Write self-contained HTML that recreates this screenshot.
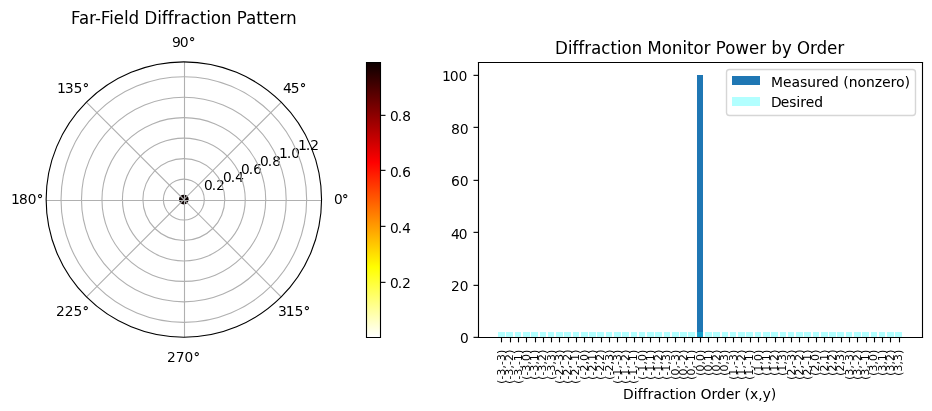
<!DOCTYPE html>
<html><head><meta charset="utf-8"><style>
html,body{margin:0;padding:0;background:#fff;width:932px;height:411px;overflow:hidden;font-family:"Liberation Sans",sans-serif;}
svg{display:block;}
</style></head><body>
<svg width="932" height="411" viewBox="0 0 671.04 295.92" version="1.1">
 
 <defs>
  <style type="text/css">*{stroke-linejoin: round; stroke-linecap: butt}</style>
 </defs>
 <defs><path id="g100_30" d="M4.344 8.906Q3.266 8.906 2.719 7.922Q2.188 6.953 2.188 5.000Q2.188 3.047 2.719 2.062Q3.266 1.094 4.344 1.094Q5.422 1.094 5.953 2.062Q6.500 3.047 6.500 5.000Q6.500 6.953 5.953 7.922Q5.422 8.906 4.344 8.906ZM4.344 10.000Q6.031 10.000 6.922 8.719Q7.812 7.438 7.812 5.000Q7.812 2.562 6.922 1.281Q6.031 0.000 4.344 0.000Q2.656 0.000 1.766 1.281Q0.875 2.562 0.875 5.000Q0.875 7.438 1.766 8.719Q2.656 10.000 4.344 10.000Z"/><path id="g100_b0" d="M3.500 8.859Q2.969 8.859 2.609 8.578Q2.250 8.297 2.250 7.891Q2.250 7.500 2.609 7.219Q2.969 6.953 3.500 6.953Q4.031 6.953 4.391 7.219Q4.750 7.500 4.750 7.891Q4.750 8.297 4.375 8.578Q4.016 8.859 3.500 8.859ZM3.500 9.953Q3.938 9.953 4.328 9.797Q4.719 9.641 5.000 9.344Q5.312 9.062 5.469 8.688Q5.625 8.312 5.625 7.891Q5.625 7.047 5.000 6.453Q4.391 5.859 3.484 5.859Q2.578 5.859 1.969 6.438Q1.375 7.016 1.375 7.891Q1.375 8.750 1.984 9.344Q2.609 9.953 3.500 9.953Z"/><path id="g100_34" d="M5.250 8.906L1.797 3.984L5.250 3.984L5.250 8.906ZM4.891 10.000L6.562 10.000L6.562 3.984L8.016 3.984L8.016 2.828L6.562 2.828L6.562 0.000L5.250 0.000L5.250 2.828L0.688 2.828L0.688 4.156L4.891 10.000Z"/><path id="g100_35" d="M1.500 10.000L6.844 10.000L6.844 8.906L2.812 8.906L2.812 6.766Q3.109 6.859 3.391 6.906Q3.688 6.953 3.984 6.953Q5.641 6.953 6.594 6.016Q7.562 5.078 7.562 3.484Q7.562 1.828 6.547 0.906Q5.547 0.000 3.703 0.000Q3.078 0.000 2.422 0.094Q1.766 0.203 1.062 0.406L1.062 1.781Q1.672 1.422 2.328 1.250Q2.984 1.094 3.703 1.094Q4.875 1.094 5.562 1.734Q6.250 2.375 6.250 3.469Q6.250 4.562 5.562 5.203Q4.891 5.859 3.703 5.859Q3.156 5.859 2.609 5.719Q2.062 5.594 1.500 5.344L1.500 10.000Z"/><path id="g100_39" d="M1.500 0.391L1.500 1.656Q2.031 1.391 2.562 1.234Q3.109 1.094 3.641 1.094Q5.031 1.094 5.766 2.078Q6.500 3.062 6.500 5.062Q6.109 4.484 5.500 4.172Q4.906 3.859 4.172 3.859Q2.641 3.859 1.750 4.672Q0.875 5.500 0.875 6.938Q0.875 8.312 1.797 9.156Q2.719 10.000 4.266 10.000Q6.016 10.000 6.938 8.719Q7.875 7.438 7.875 5.000Q7.875 2.719 6.734 1.359Q5.594 0.000 3.656 0.000Q3.141 0.000 2.609 0.094Q2.078 0.188 1.500 0.391ZM4.250 4.953Q5.203 4.953 5.750 5.484Q6.312 6.016 6.312 6.938Q6.312 7.844 5.750 8.375Q5.203 8.906 4.250 8.906Q3.297 8.906 2.734 8.375Q2.188 7.844 2.188 6.938Q2.188 6.016 2.734 5.484Q3.297 4.953 4.250 4.953Z"/><path id="g100_31" d="M1.750 1.188L4.000 1.188L4.000 8.781L1.562 8.297L1.562 9.516L3.984 10.000L5.312 10.000L5.312 1.188L7.625 1.188L7.625 0.000L1.750 0.000L1.750 1.188Z"/><path id="g100_33" d="M5.594 5.391Q6.578 5.188 7.125 4.547Q7.688 3.922 7.688 3.000Q7.688 1.562 6.656 0.781Q5.641 0.000 3.750 0.000Q3.125 0.000 2.453 0.109Q1.781 0.234 1.062 0.469L1.062 1.750Q1.641 1.422 2.312 1.250Q3.000 1.094 3.734 1.094Q5.016 1.094 5.688 1.578Q6.375 2.078 6.375 3.016Q6.375 3.891 5.750 4.375Q5.125 4.859 4.000 4.859L2.812 4.859L2.812 5.953L4.047 5.953Q5.062 5.953 5.594 6.328Q6.125 6.703 6.125 7.406Q6.125 8.141 5.562 8.516Q5.016 8.906 4.000 8.906Q3.438 8.906 2.781 8.781Q2.141 8.672 1.375 8.438L1.375 9.594Q2.141 9.797 2.812 9.891Q3.500 10.000 4.094 10.000Q5.641 10.000 6.531 9.328Q7.438 8.656 7.438 7.516Q7.438 6.703 6.953 6.141Q6.484 5.594 5.594 5.391Z"/><path id="g100_38" d="M4.469 4.859Q3.469 4.859 2.891 4.359Q2.312 3.859 2.312 2.984Q2.312 2.094 2.891 1.594Q3.469 1.094 4.469 1.094Q5.469 1.094 6.047 1.594Q6.625 2.109 6.625 2.984Q6.625 3.859 6.047 4.359Q5.484 4.859 4.469 4.859ZM3.109 5.328Q2.234 5.531 1.734 6.094Q1.250 6.672 1.250 7.516Q1.250 8.656 2.109 9.328Q2.969 10.000 4.469 10.000Q5.969 10.000 6.828 9.344Q7.688 8.688 7.688 7.578Q7.688 6.766 7.203 6.203Q6.719 5.656 5.859 5.453Q6.844 5.234 7.391 4.562Q7.938 3.906 7.938 2.969Q7.938 1.547 7.031 0.766Q6.141 0.000 4.469 0.000Q2.797 0.000 1.891 0.750Q1.000 1.500 1.000 2.891Q1.000 3.828 1.562 4.469Q2.125 5.109 3.109 5.328ZM2.562 7.422Q2.562 6.734 3.062 6.344Q3.562 5.953 4.469 5.953Q5.359 5.953 5.859 6.344Q6.375 6.734 6.375 7.422Q6.375 8.125 5.859 8.516Q5.359 8.906 4.469 8.906Q3.562 8.906 3.062 8.516Q2.562 8.125 2.562 7.422Z"/><path id="g100_32" d="M2.656 1.094L7.375 1.094L7.375 0.000L1.000 0.000L1.000 1.094Q1.781 1.875 3.125 3.203Q4.469 4.547 4.812 4.922Q5.484 5.641 5.734 6.141Q6.000 6.656 6.000 7.125Q6.000 7.906 5.438 8.406Q4.875 8.906 3.953 8.906Q3.312 8.906 2.594 8.688Q1.875 8.469 1.062 8.031L1.062 9.359Q1.891 9.688 2.594 9.844Q3.312 10.000 3.906 10.000Q5.469 10.000 6.391 9.234Q7.312 8.469 7.312 7.188Q7.312 6.578 7.078 6.031Q6.859 5.484 6.250 4.766Q6.078 4.578 5.172 3.656Q4.281 2.734 2.656 1.094Z"/><path id="g100_37" d="M1.125 10.000L7.625 10.000L7.625 9.453L3.953 0.000L2.531 0.000L5.984 8.906L1.125 8.906L1.125 10.000Z"/><path id="g100_2e" d="M1.500 1.844L2.875 1.844L2.875 0.000L1.500 0.000L1.500 1.844Z"/><path id="g100_36" d="M4.609 5.859Q3.672 5.859 3.125 5.219Q2.578 4.594 2.578 3.484Q2.578 2.375 3.125 1.734Q3.672 1.094 4.609 1.094Q5.531 1.094 6.078 1.734Q6.625 2.375 6.625 3.484Q6.625 4.594 6.078 5.219Q5.531 5.859 4.609 5.859ZM7.312 9.609L7.312 8.516Q6.797 8.703 6.250 8.797Q5.719 8.906 5.203 8.906Q3.828 8.906 3.094 8.109Q2.375 7.328 2.375 5.719Q2.766 6.328 3.359 6.641Q3.969 6.953 4.688 6.953Q6.188 6.953 7.062 6.016Q7.938 5.094 7.938 3.484Q7.938 1.906 7.016 0.953Q6.109 0.000 4.594 0.000Q2.844 0.000 1.922 1.281Q1.000 2.562 1.000 5.000Q1.000 7.281 2.125 8.641Q3.266 10.000 5.188 10.000Q5.703 10.000 6.219 9.906Q6.750 9.812 7.312 9.609Z"/><path id="g120_46" d="M1.625 13.000L8.531 13.000L8.531 11.641L3.203 11.641L3.203 8.078L8.000 8.078L8.000 6.734L3.203 6.734L3.203 0.000L1.625 0.000L1.625 13.000Z"/><path id="g120_61" d="M5.656 4.734Q3.875 4.734 3.188 4.344Q2.500 3.953 2.500 3.000Q2.500 2.250 3.016 1.797Q3.531 1.359 4.422 1.359Q5.641 1.359 6.375 2.188Q7.125 3.031 7.125 4.422L7.125 4.734L5.656 4.734ZM8.625 5.578L8.625 0.000L7.125 0.000L7.125 1.703Q6.625 0.828 5.859 0.406Q5.109 0.000 4.016 0.000Q2.641 0.000 1.812 0.797Q1.000 1.594 1.000 2.922Q1.000 4.500 2.016 5.281Q3.031 6.078 5.047 6.078L7.125 6.078L7.125 6.234Q7.125 7.391 6.453 8.016Q5.781 8.641 4.578 8.641Q3.797 8.641 3.062 8.438Q2.344 8.234 1.672 7.812L1.672 9.328Q2.484 9.672 3.250 9.828Q4.016 10.000 4.734 10.000Q6.688 10.000 7.656 8.906Q8.625 7.812 8.625 5.578Z"/><path id="g120_72" d="M6.812 8.328Q6.562 8.484 6.266 8.562Q5.984 8.641 5.641 8.641Q4.406 8.641 3.734 7.734Q3.078 6.844 3.078 5.172L3.078 0.000L1.500 0.000L1.500 10.000L3.078 10.000L3.078 8.312Q3.531 9.172 4.266 9.578Q5.016 10.000 6.078 10.000Q6.219 10.000 6.406 10.031Q6.594 10.062 6.812 10.156L6.812 8.328Z"/><path id="g120_2d" d="M0.750 5.094L5.125 5.094L5.125 3.734L0.750 3.734L0.750 5.094Z"/><path id="g120_69" d="M1.625 10.000L3.125 10.000L3.125 0.000L1.625 0.000L1.625 10.000ZM1.625 14.000L3.125 14.000L3.125 11.969L1.625 11.969L1.625 14.000Z"/><path id="g120_65" d="M9.328 5.484L9.328 4.734L2.453 4.734Q2.453 3.078 3.297 2.219Q4.141 1.359 5.641 1.359Q6.516 1.359 7.328 1.578Q8.156 1.812 8.953 2.266L8.953 0.750Q8.156 0.375 7.312 0.188Q6.469 0.000 5.594 0.000Q3.422 0.000 2.141 1.328Q0.875 2.656 0.875 4.922Q0.875 7.250 2.078 8.625Q3.297 10.000 5.344 10.000Q7.188 10.000 8.250 8.781Q9.328 7.578 9.328 5.484ZM7.750 6.078Q7.750 7.250 7.078 7.938Q6.406 8.641 5.312 8.641Q4.062 8.641 3.312 7.969Q2.562 7.297 2.453 6.078L7.750 6.078Z"/><path id="g120_6c" d="M1.625 14.000L3.125 14.000L3.125 0.000L1.625 0.000L1.625 14.000Z"/><path id="g120_64" d="M7.500 8.281L7.500 14.000L9.000 14.000L9.000 0.000L7.500 0.000L7.500 1.719Q7.031 0.844 6.312 0.422Q5.594 0.000 4.594 0.000Q2.938 0.000 1.906 1.375Q0.875 2.766 0.875 5.000Q0.875 7.234 1.906 8.609Q2.938 10.000 4.594 10.000Q5.594 10.000 6.312 9.578Q7.031 9.156 7.500 8.281ZM2.453 5.000Q2.453 3.297 3.125 2.328Q3.797 1.359 4.969 1.359Q6.141 1.359 6.812 2.328Q7.500 3.297 7.500 5.000Q7.500 6.703 6.812 7.672Q6.141 8.641 4.969 8.641Q3.797 8.641 3.125 7.672Q2.453 6.703 2.453 5.000Z"/><path id="g120_44" d="M3.203 11.641L3.203 1.359L5.219 1.359Q7.766 1.359 8.938 2.594Q10.125 3.828 10.125 6.516Q10.125 9.172 8.938 10.406Q7.766 11.641 5.219 11.641L3.203 11.641ZM1.625 13.000L5.016 13.000Q8.562 13.000 10.219 11.422Q11.875 9.844 11.875 6.516Q11.875 3.156 10.203 1.578Q8.547 0.000 5.016 0.000L1.625 0.000L1.625 13.000Z"/><path id="g120_66" d="M6.188 14.000L6.188 12.641L4.750 12.641Q3.953 12.641 3.641 12.266Q3.328 11.906 3.328 10.938L3.328 10.000L5.750 10.000L5.750 8.641L3.328 8.641L3.328 0.000L1.750 0.000L1.750 8.641L0.375 8.641L0.375 10.000L1.750 10.000L1.750 10.719Q1.750 12.422 2.469 13.203Q3.188 14.000 4.750 14.000L6.188 14.000Z"/><path id="g120_63" d="M8.062 9.391L8.062 7.922Q7.438 8.281 6.797 8.453Q6.156 8.641 5.516 8.641Q4.062 8.641 3.250 7.688Q2.453 6.734 2.453 5.000Q2.453 3.281 3.250 2.312Q4.062 1.359 5.516 1.359Q6.156 1.359 6.797 1.531Q7.438 1.719 8.062 2.078L8.062 0.625Q7.438 0.312 6.766 0.156Q6.094 0.000 5.344 0.000Q3.297 0.000 2.078 1.344Q0.875 2.703 0.875 5.000Q0.875 7.328 2.094 8.656Q3.312 10.000 5.438 10.000Q6.141 10.000 6.797 9.844Q7.453 9.703 8.062 9.391Z"/><path id="g120_74" d="M3.125 12.500L3.125 10.000L6.125 10.000L6.125 8.641L3.125 8.641L3.125 3.250Q3.125 2.047 3.422 1.688Q3.719 1.344 4.625 1.344L6.125 1.344L6.125 0.000L4.594 0.000Q2.859 0.000 2.203 0.703Q1.547 1.406 1.547 3.266L1.547 8.641L0.500 8.641L0.500 10.000L1.547 10.000L1.547 12.500L3.125 12.500Z"/><path id="g120_6f" d="M5.047 8.641Q3.844 8.641 3.141 7.656Q2.453 6.688 2.453 5.000Q2.453 3.312 3.141 2.328Q3.828 1.359 5.047 1.359Q6.234 1.359 6.922 2.328Q7.625 3.312 7.625 5.000Q7.625 6.672 6.922 7.656Q6.234 8.641 5.047 8.641ZM5.031 10.000Q6.984 10.000 8.094 8.672Q9.203 7.344 9.203 5.000Q9.203 2.672 8.094 1.328Q6.984 0.000 5.031 0.000Q3.078 0.000 1.969 1.328Q0.875 2.672 0.875 5.000Q0.875 7.344 1.969 8.672Q3.078 10.000 5.031 10.000Z"/><path id="g120_6e" d="M9.125 5.891L9.125 0.000L7.625 0.000L7.625 5.859Q7.625 7.266 7.125 7.953Q6.641 8.641 5.641 8.641Q4.453 8.641 3.766 7.812Q3.078 6.984 3.078 5.531L3.078 0.000L1.500 0.000L1.500 10.000L3.078 10.000L3.078 8.281Q3.609 9.156 4.328 9.578Q5.047 10.000 5.984 10.000Q7.531 10.000 8.328 8.953Q9.125 7.922 9.125 5.891Z"/><path id="g120_50" d="M3.203 11.641L3.203 7.078L5.312 7.078Q6.469 7.078 7.109 7.672Q7.750 8.266 7.750 9.359Q7.750 10.453 7.109 11.047Q6.469 11.641 5.312 11.641L3.203 11.641ZM1.625 13.000L5.359 13.000Q7.406 13.000 8.453 12.078Q9.500 11.156 9.500 9.375Q9.500 7.562 8.438 6.641Q7.375 5.734 5.297 5.734L3.203 5.734L3.203 0.000L1.625 0.000L1.625 13.000Z"/><path id="g80_28" d="M3.484 8.000Q2.766 6.797 2.406 5.625Q2.062 4.453 2.062 3.250Q2.062 2.047 2.406 0.859Q2.766 -0.312 3.484 -1.500L2.625 -1.500Q1.812 -0.281 1.406 0.891Q1.000 2.078 1.000 3.250Q1.000 4.406 1.391 5.578Q1.797 6.766 2.625 8.000L3.484 8.000Z"/><path id="g80_2d" d="M0.547 2.906L3.469 2.906L3.469 2.094L0.547 2.094L0.547 2.906Z"/><path id="g80_33" d="M4.453 4.312Q5.234 4.141 5.672 3.641Q6.125 3.141 6.125 2.391Q6.125 1.250 5.297 0.625Q4.484 0.000 2.969 0.000Q2.469 0.000 1.922 0.094Q1.391 0.188 0.812 0.359L0.812 1.375Q1.281 1.109 1.812 0.953Q2.359 0.812 2.953 0.812Q3.984 0.812 4.531 1.234Q5.078 1.656 5.078 2.484Q5.078 3.250 4.562 3.672Q4.062 4.094 3.172 4.094L2.219 4.094L2.219 4.906L3.203 4.906Q4.016 4.906 4.438 5.188Q4.875 5.484 4.875 6.047Q4.875 6.594 4.422 6.891Q3.984 7.188 3.172 7.188Q2.719 7.188 2.203 7.094Q1.688 7.016 1.062 6.828L1.062 7.688Q1.688 7.844 2.219 7.922Q2.766 8.000 3.250 8.000Q4.484 8.000 5.203 7.453Q5.938 6.922 5.938 6.016Q5.938 5.359 5.547 4.922Q5.156 4.484 4.453 4.312Z"/><path id="g80_2c" d="M1.250 1.844L2.375 1.844L2.375 0.844L1.500 -1.000L0.797 -1.000L1.250 0.844L1.250 1.844Z"/><path id="g80_29" d="M0.938 8.000L1.812 8.000Q2.625 6.766 3.031 5.578Q3.438 4.406 3.438 3.250Q3.438 2.078 3.031 0.891Q2.625 -0.281 1.812 -1.500L0.938 -1.500Q1.672 -0.312 2.016 0.859Q2.375 2.047 2.375 3.250Q2.375 4.453 2.016 5.625Q1.672 6.797 0.938 8.000Z"/><path id="g80_32" d="M2.188 0.812L5.969 0.812L5.969 0.000L0.875 0.000L0.875 0.812Q1.500 1.453 2.578 2.531Q3.656 3.625 3.938 3.938Q4.453 4.531 4.656 4.938Q4.875 5.344 4.875 5.734Q4.875 6.375 4.422 6.781Q3.969 7.188 3.250 7.188Q2.734 7.188 2.156 7.000Q1.578 6.828 0.938 6.469L0.938 7.531Q1.578 7.766 2.141 7.875Q2.719 8.000 3.203 8.000Q4.453 8.000 5.188 7.391Q5.938 6.781 5.938 5.734Q5.938 5.250 5.750 4.797Q5.562 4.359 5.078 3.766Q4.938 3.609 4.219 2.859Q3.500 2.125 2.188 0.812Z"/><path id="g80_31" d="M1.328 0.891L3.125 0.891L3.125 7.016L1.172 6.625L1.172 7.609L3.109 8.000L4.188 8.000L4.188 0.891L5.969 0.891L5.969 0.000L1.328 0.000L1.328 0.891Z"/><path id="g80_30" d="M3.531 7.188Q2.672 7.188 2.234 6.391Q1.812 5.594 1.812 4.000Q1.812 2.406 2.234 1.609Q2.672 0.812 3.531 0.812Q4.391 0.812 4.812 1.609Q5.250 2.406 5.250 4.000Q5.250 5.594 4.812 6.391Q4.391 7.188 3.531 7.188ZM3.531 8.000Q4.875 8.000 5.594 6.969Q6.312 5.953 6.312 4.000Q6.312 2.047 5.594 1.016Q4.875 0.000 3.531 0.000Q2.172 0.000 1.453 1.016Q0.750 2.047 0.750 4.000Q0.750 5.953 1.453 6.969Q2.172 8.000 3.531 8.000Z"/><path id="g100_44" d="M2.688 8.906L2.688 1.094L4.344 1.094Q6.438 1.094 7.406 2.031Q8.375 2.984 8.375 5.016Q8.375 7.031 7.406 7.969Q6.438 8.906 4.344 8.906L2.688 8.906ZM1.375 10.000L4.188 10.000Q7.125 10.000 8.500 8.781Q9.875 7.578 9.875 5.016Q9.875 2.438 8.484 1.219Q7.109 0.000 4.188 0.000L1.375 0.000L1.375 10.000Z"/><path id="g100_69" d="M1.250 8.000L2.562 8.000L2.562 0.000L1.250 0.000L1.250 8.000ZM1.250 11.000L2.562 11.000L2.562 9.906L1.250 9.906L1.250 11.000Z"/><path id="g100_66" d="M5.188 11.000L5.188 9.906L4.031 9.906Q3.375 9.906 3.125 9.625Q2.875 9.359 2.875 8.672L2.875 8.000L4.875 8.000L4.875 6.906L2.875 6.906L2.875 0.000L1.562 0.000L1.562 6.906L0.375 6.906L0.375 8.000L1.562 8.000L1.562 8.547Q1.562 9.828 2.141 10.406Q2.734 11.000 4.016 11.000L5.188 11.000Z"/><path id="g100_72" d="M5.750 6.656Q5.547 6.781 5.297 6.844Q5.047 6.906 4.750 6.906Q3.703 6.906 3.125 6.188Q2.562 5.469 2.562 4.141L2.562 0.000L1.250 0.000L1.250 8.000L2.562 8.000L2.562 6.641Q2.953 7.328 3.578 7.656Q4.219 8.000 5.125 8.000Q5.250 8.000 5.406 8.016Q5.562 8.047 5.750 8.109L5.750 6.656Z"/><path id="g100_61" d="M4.797 3.859Q3.328 3.859 2.750 3.531Q2.188 3.219 2.188 2.438Q2.188 1.812 2.609 1.453Q3.047 1.094 3.766 1.094Q4.781 1.094 5.391 1.781Q6.000 2.469 6.000 3.609L6.000 3.859L4.797 3.859ZM7.312 4.453L7.312 0.000L6.000 0.000L6.000 1.375Q5.578 0.672 4.938 0.328Q4.312 0.000 3.391 0.000Q2.234 0.000 1.547 0.641Q0.875 1.297 0.875 2.391Q0.875 3.672 1.719 4.312Q2.578 4.953 4.266 4.953L6.000 4.953L6.000 5.094Q6.000 5.953 5.438 6.422Q4.891 6.906 3.875 6.906Q3.234 6.906 2.625 6.750Q2.016 6.594 1.469 6.281L1.469 7.453Q2.141 7.719 2.781 7.859Q3.438 8.000 4.047 8.000Q5.688 8.000 6.500 7.109Q7.312 6.234 7.312 4.453Z"/><path id="g100_63" d="M6.750 7.516L6.750 6.328Q6.219 6.609 5.688 6.750Q5.156 6.906 4.625 6.906Q3.406 6.906 2.734 6.141Q2.062 5.375 2.062 4.000Q2.062 2.625 2.734 1.859Q3.406 1.094 4.625 1.094Q5.156 1.094 5.688 1.234Q6.219 1.375 6.750 1.672L6.750 0.500Q6.234 0.250 5.672 0.125Q5.109 0.000 4.484 0.000Q2.766 0.000 1.750 1.078Q0.750 2.156 0.750 4.000Q0.750 5.859 1.766 6.922Q2.797 8.000 4.562 8.000Q5.141 8.000 5.688 7.875Q6.234 7.750 6.750 7.516Z"/><path id="g100_74" d="M2.562 10.000L2.562 8.000L5.125 8.000L5.125 6.906L2.562 6.906L2.562 2.609Q2.562 1.641 2.812 1.359Q3.078 1.078 3.844 1.078L5.125 1.078L5.125 0.000L3.828 0.000Q2.359 0.000 1.797 0.562Q1.250 1.125 1.250 2.609L1.250 6.906L0.375 6.906L0.375 8.000L1.250 8.000L1.250 10.000L2.562 10.000Z"/><path id="g100_6f" d="M4.219 6.906Q3.234 6.906 2.641 6.125Q2.062 5.344 2.062 4.000Q2.062 2.656 2.641 1.875Q3.219 1.094 4.219 1.094Q5.219 1.094 5.797 1.875Q6.375 2.656 6.375 4.000Q6.375 5.344 5.797 6.125Q5.219 6.906 4.219 6.906ZM4.219 8.000Q5.844 8.000 6.766 6.938Q7.688 5.875 7.688 4.000Q7.688 2.141 6.766 1.062Q5.844 0.000 4.219 0.000Q2.594 0.000 1.672 1.062Q0.750 2.141 0.750 4.000Q0.750 5.875 1.672 6.938Q2.594 8.000 4.219 8.000Z"/><path id="g100_6e" d="M7.625 4.719L7.625 0.000L6.312 0.000L6.312 4.688Q6.312 5.812 5.906 6.359Q5.500 6.906 4.672 6.906Q3.703 6.906 3.125 6.250Q2.562 5.594 2.562 4.422L2.562 0.000L1.250 0.000L1.250 8.000L2.562 8.000L2.562 6.625Q3.016 7.312 3.609 7.656Q4.219 8.000 5.000 8.000Q6.297 8.000 6.953 7.156Q7.625 6.328 7.625 4.719Z"/><path id="g100_4f" d="M5.438 8.906Q3.984 8.906 3.109 7.859Q2.250 6.812 2.250 5.000Q2.250 3.203 3.109 2.141Q3.984 1.094 5.438 1.094Q6.906 1.094 7.766 2.141Q8.625 3.203 8.625 5.000Q8.625 6.812 7.766 7.859Q6.906 8.906 5.438 8.906ZM5.438 10.000Q7.578 10.000 8.844 8.641Q10.125 7.281 10.125 5.000Q10.125 2.719 8.844 1.359Q7.578 0.000 5.438 0.000Q3.312 0.000 2.031 1.344Q0.750 2.703 0.750 5.000Q0.750 7.281 2.031 8.641Q3.312 10.000 5.438 10.000Z"/><path id="g100_64" d="M6.250 6.625L6.250 11.000L7.562 11.000L7.562 0.000L6.250 0.000L6.250 1.375Q5.859 0.672 5.266 0.328Q4.672 0.000 3.828 0.000Q2.469 0.000 1.609 1.094Q0.750 2.203 0.750 4.000Q0.750 5.797 1.609 6.891Q2.469 8.000 3.828 8.000Q4.672 8.000 5.266 7.656Q5.859 7.328 6.250 6.625ZM2.062 4.000Q2.062 2.641 2.609 1.859Q3.172 1.094 4.156 1.094Q5.125 1.094 5.688 1.859Q6.250 2.641 6.250 4.000Q6.250 5.359 5.688 6.125Q5.125 6.906 4.156 6.906Q3.172 6.906 2.609 6.125Q2.062 5.359 2.062 4.000Z"/><path id="g100_65" d="M7.812 4.453L7.812 3.859L2.062 3.859Q2.062 2.500 2.766 1.797Q3.469 1.094 4.734 1.094Q5.469 1.094 6.141 1.281Q6.828 1.469 7.516 1.828L7.516 0.609Q6.844 0.328 6.125 0.156Q5.422 0.000 4.703 0.000Q2.875 0.000 1.812 1.062Q0.750 2.125 0.750 3.938Q0.750 5.812 1.750 6.906Q2.766 8.000 4.484 8.000Q6.031 8.000 6.922 7.047Q7.812 6.094 7.812 4.453ZM6.500 4.953Q6.500 5.844 5.938 6.375Q5.375 6.906 4.453 6.906Q3.422 6.906 2.781 6.391Q2.156 5.891 2.062 4.953L6.500 4.953Z"/><path id="g100_28" d="M4.359 11.000Q3.453 9.438 3.000 7.891Q2.562 6.344 2.562 4.750Q2.562 3.172 3.000 1.609Q3.453 0.062 4.359 -1.500L3.266 -1.500Q2.250 0.094 1.750 1.656Q1.250 3.219 1.250 4.750Q1.250 6.281 1.750 7.828Q2.250 9.391 3.266 11.000L4.359 11.000Z"/><path id="g100_78" d="M7.609 8.000L4.875 4.109L7.766 0.000L6.281 0.000L4.078 3.141L1.875 0.000L0.406 0.000L3.344 4.188L0.656 8.000L2.125 8.000L4.141 5.156L6.141 8.000L7.609 8.000Z"/><path id="g100_2c" d="M1.625 1.000L3.000 1.000L3.000 -0.047L1.938 -2.000L1.062 -2.000L1.625 -0.047L1.625 1.000Z"/><path id="g100_79" d="M4.500 -0.703Q3.969 -2.141 3.469 -2.562Q2.969 -3.000 2.125 -3.000L1.125 -3.000L1.125 -1.922L1.859 -1.922Q2.375 -1.922 2.656 -1.656Q2.938 -1.406 3.281 -0.453L3.516 0.141L0.438 8.000L1.766 8.000L4.141 1.750L6.500 8.000L7.828 8.000L4.500 -0.703Z"/><path id="g100_29" d="M1.094 11.000L2.172 11.000Q3.188 9.391 3.688 7.828Q4.188 6.281 4.188 4.750Q4.188 3.219 3.688 1.656Q3.188 0.094 2.172 -1.500L1.094 -1.500Q1.984 0.062 2.422 1.609Q2.875 3.172 2.875 4.750Q2.875 6.344 2.422 7.891Q1.984 9.438 1.094 11.000Z"/><path id="g120_4d" d="M1.625 13.000L4.062 13.000L7.156 4.156L10.281 13.000L12.703 13.000L12.703 0.000L11.125 0.000L11.125 11.422L7.984 2.500L6.344 2.500L3.203 11.422L3.203 0.000L1.625 0.000L1.625 13.000Z"/><path id="g120_77" d="M0.703 10.000L2.188 10.000L4.062 2.203L5.922 10.000L7.688 10.000L9.547 2.203L11.406 10.000L12.906 10.000L10.516 0.000L8.766 0.000L6.797 8.203L4.844 0.000L3.078 0.000L0.703 10.000Z"/><path id="g120_62" d="M8.047 5.000Q8.047 6.703 7.375 7.672Q6.719 8.641 5.562 8.641Q4.406 8.641 3.734 7.672Q3.078 6.703 3.078 5.000Q3.078 3.297 3.734 2.328Q4.406 1.359 5.562 1.359Q6.719 1.359 7.375 2.328Q8.047 3.297 8.047 5.000ZM3.078 8.281Q3.547 9.156 4.250 9.578Q4.953 10.000 5.953 10.000Q7.578 10.000 8.594 8.609Q9.625 7.234 9.625 5.000Q9.625 2.766 8.594 1.375Q7.578 0.000 5.953 0.000Q4.953 0.000 4.250 0.422Q3.547 0.844 3.078 1.719L3.078 0.000L1.500 0.000L1.500 14.000L3.078 14.000L3.078 8.281Z"/><path id="g120_79" d="M5.406 -1.078Q4.781 -2.891 4.172 -3.438Q3.578 -4.000 2.562 -4.000L1.375 -4.000L1.375 -2.656L2.250 -2.656Q2.875 -2.656 3.203 -2.328Q3.547 -2.000 3.969 -0.781L4.234 -0.016L0.562 10.000L2.141 10.000L4.984 2.031L7.828 10.000L9.406 10.000L5.406 -1.078Z"/><path id="g120_4f" d="M6.516 11.641Q4.719 11.641 3.672 10.250Q2.625 8.875 2.625 6.500Q2.625 4.125 3.672 2.734Q4.719 1.359 6.516 1.359Q8.297 1.359 9.328 2.734Q10.375 4.125 10.375 6.500Q10.375 8.875 9.328 10.250Q8.297 11.641 6.516 11.641ZM6.516 13.000Q9.062 13.000 10.594 11.234Q12.125 9.469 12.125 6.500Q12.125 3.531 10.594 1.766Q9.062 0.000 6.516 0.000Q3.938 0.000 2.406 1.750Q0.875 3.516 0.875 6.500Q0.875 9.469 2.406 11.234Q3.938 13.000 6.516 13.000Z"/><path id="g100_4d" d="M1.375 10.000L3.406 10.000L6.000 3.188L8.609 10.000L10.625 10.000L10.625 0.000L9.312 0.000L9.312 8.781L6.688 1.922L5.312 1.922L2.688 8.781L2.688 0.000L1.375 0.000L1.375 10.000Z"/><path id="g100_73" d="M6.078 7.578L6.078 6.375Q5.562 6.641 5.000 6.766Q4.438 6.906 3.828 6.906Q2.922 6.906 2.453 6.625Q2.000 6.344 2.000 5.766Q2.000 5.344 2.328 5.094Q2.656 4.844 3.656 4.625L4.078 4.531Q5.391 4.234 5.938 3.719Q6.500 3.203 6.500 2.281Q6.500 1.234 5.656 0.609Q4.828 0.000 3.359 0.000Q2.750 0.000 2.078 0.125Q1.422 0.266 0.703 0.500L0.703 1.797Q1.391 1.438 2.047 1.266Q2.719 1.094 3.375 1.094Q4.250 1.094 4.719 1.391Q5.188 1.688 5.188 2.250Q5.188 2.750 4.844 3.016Q4.500 3.297 3.359 3.531L2.922 3.641Q1.781 3.875 1.266 4.375Q0.750 4.891 0.750 5.781Q0.750 6.828 1.500 7.406Q2.266 8.000 3.656 8.000Q4.344 8.000 4.953 7.891Q5.562 7.781 6.078 7.578Z"/><path id="g100_75" d="M1.125 3.281L1.125 8.000L2.438 8.000L2.438 3.312Q2.438 2.203 2.844 1.641Q3.250 1.094 4.062 1.094Q5.047 1.094 5.609 1.750Q6.188 2.422 6.188 3.562L6.188 8.000L7.500 8.000L7.500 0.000L6.188 0.000L6.188 1.375Q5.734 0.672 5.141 0.328Q4.547 0.000 3.766 0.000Q2.469 0.000 1.797 0.828Q1.125 1.672 1.125 3.281ZM4.312 8.000L4.312 8.000Z"/><path id="g100_7a" d="M0.875 8.000L6.750 8.000L6.750 6.766L2.094 1.094L6.750 1.094L6.750 0.000L0.625 0.000L0.625 1.234L5.359 6.906L0.875 6.906L0.875 8.000Z"/></defs><g id="figure_1" transform="translate(0 -0.6192)">
  <g id="patch_1">
   <path d="M 0 296.5392 L 671.04 296.5392 L 671.04 -0.1008 L 0 -0.1008 z" style="fill: #ffffff"/>
  </g>
  <g id="axes_1">
   <g id="patch_2">
    <path d="M 231.5088 144.2952 
C 231.5088 131.275729 228.944248 118.382856 223.961912 106.354434 
C 218.979577 94.326011 211.676351 83.395961 202.470195 74.189805 
C 193.264039 64.983649 182.333989 57.680423 170.305566 52.698088 
C 158.277144 47.715752 145.384271 45.1512 132.3648 45.1512 
C 119.345329 45.1512 106.452456 47.715752 94.424034 52.698088 
C 82.395611 57.680423 71.465561 64.983649 62.259405 74.189805 
C 53.053249 83.395961 45.750023 94.326011 40.767688 106.354434 
C 35.785352 118.382856 33.2208 131.275729 33.2208 144.2952 
C 33.2208 157.314671 35.785352 170.207544 40.767688 182.235966 
C 45.750023 194.264389 53.053249 205.194439 62.259405 214.400595 
C 71.465561 223.606751 82.395611 230.909977 94.424034 235.892312 
C 106.452456 240.874648 119.345329 243.4392 132.3648 243.4392 
C 145.384271 243.4392 158.277144 240.874648 170.305566 235.892312 
C 182.333989 230.909977 193.264039 223.606751 202.470195 214.400595 
C 211.676351 205.194439 218.979577 194.264389 223.961912 182.235966 
C 228.944248 170.207544 231.5088 157.314671 231.5088 144.2952 
M 132.3648 144.2952 
C 132.3648 144.2952 132.3648 144.2952 132.3648 144.2952 
C 132.3648 144.2952 132.3648 144.2952 132.3648 144.2952 
C 132.3648 144.2952 132.3648 144.2952 132.3648 144.2952 
C 132.3648 144.2952 132.3648 144.2952 132.3648 144.2952 
C 132.3648 144.2952 132.3648 144.2952 132.3648 144.2952 
C 132.3648 144.2952 132.3648 144.2952 132.3648 144.2952 
C 132.3648 144.2952 132.3648 144.2952 132.3648 144.2952 
C 132.3648 144.2952 132.3648 144.2952 132.3648 144.2952 
C 132.3648 144.2952 132.3648 144.2952 132.3648 144.2952 
C 132.3648 144.2952 132.3648 144.2952 132.3648 144.2952 
C 132.3648 144.2952 132.3648 144.2952 132.3648 144.2952 
C 132.3648 144.2952 132.3648 144.2952 132.3648 144.2952 
C 132.3648 144.2952 132.3648 144.2952 132.3648 144.2952 
C 132.3648 144.2952 132.3648 144.2952 132.3648 144.2952 
C 132.3648 144.2952 132.3648 144.2952 132.3648 144.2952 
C 132.3648 144.2952 132.3648 144.2952 132.3648 144.2952 
z
" style="fill: #ffffff"/>
   </g>
   <g id="PathCollection_1">
    <defs>
     <path id="C0_0_623b9ded61" d="M 0 3 
C 0.795609 3 1.55874 2.683901 2.12132 2.12132 
C 2.683901 1.55874 3 0.795609 3 -0 
C 3 -0.795609 2.683901 -1.55874 2.12132 -2.12132 
C 1.55874 -2.683901 0.795609 -3 0 -3 
C -0.795609 -3 -1.55874 -2.683901 -2.12132 -2.12132 
C -2.683901 -1.55874 -3 -0.795609 -3 0 
C -3 0.795609 -2.683901 1.55874 -2.12132 2.12132 
C -1.55874 2.683901 -0.795609 3 0 3 
z
"/>
    </defs>
    <g clip-path="url(#pb566f60d54)">
     <use href="#C0_0_623b9ded61" x="132.3648" y="144.2952" style="fill: #0b0000; stroke: #0b0000"/>
    </g>
    <g clip-path="url(#pb566f60d54)">
     <use href="#C0_0_623b9ded61" x="215.138387" y="99.075783" style="fill: #ffffff; stroke: #ffffff"/>
    </g>
   </g>
   <g id="matplotlib.axis_1">
    <g id="xtick_1">
     <g id="line2d_1">
      <path d="M 132.84 144.9792 L 232.2 144.9792" clip-path="url(#pb566f60d54)" style="fill: none; stroke: #b0b0b0; stroke-width: 0.8; stroke-linecap: square"/>
     </g>
     <g id="text_1" transform="scale(0.72)" style="fill:#000000"><use href="#g100_30" transform="matrix(1 0 0 -1 334.0000 204.8600)"/><use href="#g100_b0" transform="matrix(1 0 0 -1 341.7500 204.8600)"/></g>
    </g>
    <g id="xtick_2">
     <g id="line2d_2">
      <path d="M 132.3648 144.2952 
L 202.470195 74.189805 
" clip-path="url(#pb566f60d54)" style="fill: none; stroke: #b0b0b0; stroke-width: 0.8; stroke-linecap: square"/>
     </g>
     <g id="text_2" transform="scale(0.72)" style="fill:#000000"><use href="#g100_34" transform="matrix(1 0 0 -1 283.0000 93.8600)"/><use href="#g100_35" transform="matrix(1 0 0 -1 290.7500 93.8600)"/><use href="#g100_b0" transform="matrix(1 0 0 -1 299.5000 93.8600)"/></g>
    </g>
    <g id="xtick_3">
     <g id="line2d_3">
      <path d="M 132.84 144.9792 L 132.84 45.6192" clip-path="url(#pb566f60d54)" style="fill: none; stroke: #b0b0b0; stroke-width: 0.8; stroke-linecap: square"/>
     </g>
     <g id="text_3" transform="scale(0.72)" style="fill:#000000"><use href="#g100_39" transform="matrix(1 0 0 -1 172.0000 47.8600)"/><use href="#g100_30" transform="matrix(1 0 0 -1 179.8750 47.8600)"/><use href="#g100_b0" transform="matrix(1 0 0 -1 188.6250 47.8600)"/></g>
    </g>
    <g id="xtick_4">
     <g id="line2d_4">
      <path d="M 132.3648 144.2952 
L 62.259405 74.189805 
" clip-path="url(#pb566f60d54)" style="fill: none; stroke: #b0b0b0; stroke-width: 0.8; stroke-linecap: square"/>
     </g>
     <g id="text_4" transform="scale(0.72)" style="fill:#000000"><use href="#g100_31" transform="matrix(1 0 0 -1 57.0000 93.8600)"/><use href="#g100_33" transform="matrix(1 0 0 -1 64.8750 93.8600)"/><use href="#g100_35" transform="matrix(1 0 0 -1 73.6250 93.8600)"/><use href="#g100_b0" transform="matrix(1 0 0 -1 82.3750 93.8600)"/></g>
    </g>
    <g id="xtick_5">
     <g id="line2d_5">
      <path d="M 132.84 144.9792 L 33.48 144.9792" clip-path="url(#pb566f60d54)" style="fill: none; stroke: #b0b0b0; stroke-width: 0.8; stroke-linecap: square"/>
     </g>
     <g id="text_5" transform="scale(0.72)" style="fill:#000000"><use href="#g100_31" transform="matrix(1 0 0 -1 11.0000 204.8600)"/><use href="#g100_38" transform="matrix(1 0 0 -1 18.8750 204.8600)"/><use href="#g100_30" transform="matrix(1 0 0 -1 27.7500 204.8600)"/><use href="#g100_b0" transform="matrix(1 0 0 -1 36.5000 204.8600)"/></g>
    </g>
    <g id="xtick_6">
     <g id="line2d_6">
      <path d="M 132.3648 144.2952 
L 62.259405 214.400595 
" clip-path="url(#pb566f60d54)" style="fill: none; stroke: #b0b0b0; stroke-width: 0.8; stroke-linecap: square"/>
     </g>
     <g id="text_6" transform="scale(0.72)" style="fill:#000000"><use href="#g100_32" transform="matrix(1 0 0 -1 56.0000 316.8600)"/><use href="#g100_32" transform="matrix(1 0 0 -1 64.7500 316.8600)"/><use href="#g100_35" transform="matrix(1 0 0 -1 73.5000 316.8600)"/><use href="#g100_b0" transform="matrix(1 0 0 -1 82.2500 316.8600)"/></g>
    </g>
    <g id="xtick_7">
     <g id="line2d_7">
      <path d="M 132.84 144.9792 L 132.84 243.6192" clip-path="url(#pb566f60d54)" style="fill: none; stroke: #b0b0b0; stroke-width: 0.8; stroke-linecap: square"/>
     </g>
     <g id="text_7" transform="scale(0.72)" style="fill:#000000"><use href="#g100_32" transform="matrix(1 0 0 -1 167.0000 362.8600)"/><use href="#g100_37" transform="matrix(1 0 0 -1 175.7500 362.8600)"/><use href="#g100_30" transform="matrix(1 0 0 -1 184.5000 362.8600)"/><use href="#g100_b0" transform="matrix(1 0 0 -1 193.2500 362.8600)"/></g>
    </g>
    <g id="xtick_8">
     <g id="line2d_8">
      <path d="M 132.3648 144.2952 
L 202.470195 214.400595 
" clip-path="url(#pb566f60d54)" style="fill: none; stroke: #b0b0b0; stroke-width: 0.8; stroke-linecap: square"/>
     </g>
     <g id="text_8" transform="scale(0.72)" style="fill:#000000"><use href="#g100_33" transform="matrix(1 0 0 -1 278.0000 316.8600)"/><use href="#g100_31" transform="matrix(1 0 0 -1 285.7500 316.8600)"/><use href="#g100_35" transform="matrix(1 0 0 -1 294.6250 316.8600)"/><use href="#g100_b0" transform="matrix(1 0 0 -1 303.3750 316.8600)"/></g>
    </g>
   </g>
   <g id="matplotlib.axis_2">
    <g id="ytick_1">
     <g id="line2d_9">
      <path d="M 147.1023 144.2952 
C 147.1023 142.359889 146.721086 140.443397 145.980475 138.655403 
C 145.239863 136.867409 144.154258 135.242685 142.785786 133.874214 
C 141.417315 132.505742 139.792591 131.420137 138.004597 130.679525 
C 136.216603 129.938914 134.300111 129.5577 132.3648 129.5577 
C 130.429489 129.5577 128.512997 129.938914 126.725003 130.679525 
C 124.937009 131.420137 123.312285 132.505742 121.943814 133.874214 
C 120.575342 135.242685 119.489737 136.867409 118.749125 138.655403 
C 118.008514 140.443397 117.6273 142.359889 117.6273 144.2952 
C 117.6273 146.230511 118.008514 148.147003 118.749125 149.934997 
C 119.489737 151.722991 120.575342 153.347715 121.943814 154.716186 
C 123.312285 156.084658 124.937009 157.170263 126.725003 157.910875 
C 128.512997 158.651486 130.429489 159.0327 132.3648 159.0327 
C 134.300111 159.0327 136.216603 158.651486 138.004597 157.910875 
C 139.792591 157.170263 141.417315 156.084658 142.785786 154.716186 
C 144.154258 153.347715 145.239863 151.722991 145.980475 149.934997 
C 146.721086 148.147003 147.1023 146.230511 147.1023 144.2952 
" clip-path="url(#pb566f60d54)" style="fill: none; stroke: #b0b0b0; stroke-width: 0.8; stroke-linecap: square"/>
     </g>
     <g id="text_9" transform="scale(0.72)" style="fill:#000000"><use href="#g100_30" transform="matrix(1 0 0 -1 204.0000 190.8600)"/><use href="#g100_2e" transform="matrix(1 0 0 -1 211.7500 190.8600)"/><use href="#g100_32" transform="matrix(1 0 0 -1 216.1250 190.8600)"/></g>
    </g>
    <g id="ytick_2">
     <g id="line2d_10">
      <path d="M 161.8398 144.2952 
C 161.8398 140.424578 161.077372 136.591594 159.596149 133.015606 
C 158.114926 129.439618 155.943715 126.19017 153.206772 123.453228 
C 150.46983 120.716285 147.220382 118.545074 143.644394 117.063851 
C 140.068406 115.582628 136.235422 114.8202 132.3648 114.8202 
C 128.494178 114.8202 124.661194 115.582628 121.085206 117.063851 
C 117.509218 118.545074 114.25977 120.716285 111.522828 123.453228 
C 108.785885 126.19017 106.614674 129.439618 105.133451 133.015606 
C 103.652228 136.591594 102.8898 140.424578 102.8898 144.2952 
C 102.8898 148.165822 103.652228 151.998806 105.133451 155.574794 
C 106.614674 159.150782 108.785885 162.40023 111.522828 165.137172 
C 114.25977 167.874115 117.509218 170.045326 121.085206 171.526549 
C 124.661194 173.007772 128.494178 173.7702 132.3648 173.7702 
C 136.235422 173.7702 140.068406 173.007772 143.644394 171.526549 
C 147.220382 170.045326 150.46983 167.874115 153.206772 165.137172 
C 155.943715 162.40023 158.114926 159.150782 159.596149 155.574794 
C 161.077372 151.998806 161.8398 148.165822 161.8398 144.2952 
" clip-path="url(#pb566f60d54)" style="fill: none; stroke: #b0b0b0; stroke-width: 0.8; stroke-linecap: square"/>
     </g>
     <g id="text_10" transform="scale(0.72)" style="fill:#000000"><use href="#g100_30" transform="matrix(1 0 0 -1 223.0000 182.8600)"/><use href="#g100_2e" transform="matrix(1 0 0 -1 230.7500 182.8600)"/><use href="#g100_34" transform="matrix(1 0 0 -1 235.1250 182.8600)"/></g>
    </g>
    <g id="ytick_3">
     <g id="line2d_11">
      <path d="M 176.5773 144.2952 
C 176.5773 138.489268 175.433658 132.739791 173.211824 127.375809 
C 170.98999 122.011827 167.733173 117.137656 163.627759 113.032241 
C 159.522344 108.926827 154.648173 105.67001 149.284191 103.448176 
C 143.920209 101.226342 138.170732 100.0827 132.3648 100.0827 
C 126.558868 100.0827 120.809391 101.226342 115.445409 103.448176 
C 110.081427 105.67001 105.207256 108.926827 101.101841 113.032241 
C 96.996427 117.137656 93.73961 122.011827 91.517776 127.375809 
C 89.295942 132.739791 88.1523 138.489268 88.1523 144.2952 
C 88.1523 150.101132 89.295942 155.850609 91.517776 161.214591 
C 93.73961 166.578573 96.996427 171.452744 101.101841 175.558159 
C 105.207256 179.663573 110.081427 182.92039 115.445409 185.142224 
C 120.809391 187.364058 126.558868 188.5077 132.3648 188.5077 
C 138.170732 188.5077 143.920209 187.364058 149.284191 185.142224 
C 154.648173 182.92039 159.522344 179.663573 163.627759 175.558159 
C 167.733173 171.452744 170.98999 166.578573 173.211824 161.214591 
C 175.433658 155.850609 176.5773 150.101132 176.5773 144.2952 
" clip-path="url(#pb566f60d54)" style="fill: none; stroke: #b0b0b0; stroke-width: 0.8; stroke-linecap: square"/>
     </g>
     <g id="text_11" transform="scale(0.72)" style="fill:#000000"><use href="#g100_30" transform="matrix(1 0 0 -1 241.0000 174.8600)"/><use href="#g100_2e" transform="matrix(1 0 0 -1 248.7500 174.8600)"/><use href="#g100_36" transform="matrix(1 0 0 -1 253.1250 174.8600)"/></g>
    </g>
    <g id="ytick_4">
     <g id="line2d_12">
      <path d="M 191.3148 144.2952 
C 191.3148 136.553957 189.789944 128.887988 186.827498 121.736012 
C 183.865053 114.584036 179.52263 108.085141 174.048745 102.611255 
C 168.574859 97.13737 162.075964 92.794947 154.923988 89.832502 
C 147.772012 86.870056 140.106043 85.3452 132.3648 85.3452 
C 124.623557 85.3452 116.957588 86.870056 109.805612 89.832502 
C 102.653636 92.794947 96.154741 97.13737 90.680855 102.611255 
C 85.20697 108.085141 80.864547 114.584036 77.902102 121.736012 
C 74.939656 128.887988 73.4148 136.553957 73.4148 144.2952 
C 73.4148 152.036443 74.939656 159.702412 77.902102 166.854388 
C 80.864547 174.006364 85.20697 180.505259 90.680855 185.979145 
C 96.154741 191.45303 102.653636 195.795453 109.805612 198.757898 
C 116.957588 201.720344 124.623557 203.2452 132.3648 203.2452 
C 140.106043 203.2452 147.772012 201.720344 154.923988 198.757898 
C 162.075964 195.795453 168.574859 191.45303 174.048745 185.979145 
C 179.52263 180.505259 183.865053 174.006364 186.827498 166.854388 
C 189.789944 159.702412 191.3148 152.036443 191.3148 144.2952 
" clip-path="url(#pb566f60d54)" style="fill: none; stroke: #b0b0b0; stroke-width: 0.8; stroke-linecap: square"/>
     </g>
     <g id="text_12" transform="scale(0.72)" style="fill:#000000"><use href="#g100_30" transform="matrix(1 0 0 -1 260.0000 166.8600)"/><use href="#g100_2e" transform="matrix(1 0 0 -1 267.7500 166.8600)"/><use href="#g100_38" transform="matrix(1 0 0 -1 272.1250 166.8600)"/></g>
    </g>
    <g id="ytick_5">
     <g id="line2d_13">
      <path d="M 206.0523 144.2952 
C 206.0523 134.618646 204.14623 125.036185 200.443173 116.096215 
C 196.740116 107.156245 191.312088 99.032626 184.469731 92.190269 
C 177.627374 85.347912 169.503755 79.919884 160.563785 76.216827 
C 151.623815 72.51377 142.041354 70.6077 132.3648 70.6077 
C 122.688246 70.6077 113.105785 72.51377 104.165815 76.216827 
C 95.225845 79.919884 87.102226 85.347912 80.259869 92.190269 
C 73.417512 99.032626 67.989484 107.156245 64.286427 116.096215 
C 60.58337 125.036185 58.6773 134.618646 58.6773 144.2952 
C 58.6773 153.971754 60.58337 163.554215 64.286427 172.494185 
C 67.989484 181.434155 73.417512 189.557774 80.259869 196.400131 
C 87.102226 203.242488 95.225845 208.670516 104.165815 212.373573 
C 113.105785 216.07663 122.688246 217.9827 132.3648 217.9827 
C 142.041354 217.9827 151.623815 216.07663 160.563785 212.373573 
C 169.503755 208.670516 177.627374 203.242488 184.469731 196.400131 
C 191.312088 189.557774 196.740116 181.434155 200.443173 172.494185 
C 204.14623 163.554215 206.0523 153.971754 206.0523 144.2952 
" clip-path="url(#pb566f60d54)" style="fill: none; stroke: #b0b0b0; stroke-width: 0.8; stroke-linecap: square"/>
     </g>
     <g id="text_13" transform="scale(0.72)" style="fill:#000000"><use href="#g100_31" transform="matrix(1 0 0 -1 279.0000 158.8600)"/><use href="#g100_2e" transform="matrix(1 0 0 -1 286.8750 158.8600)"/><use href="#g100_30" transform="matrix(1 0 0 -1 291.2500 158.8600)"/></g>
    </g>
    <g id="ytick_6">
     <g id="line2d_14">
      <path d="M 220.7898 144.2952 
C 220.7898 132.683335 218.502516 121.184382 214.058848 110.456417 
C 209.615179 99.728453 203.101545 89.980111 194.890717 81.769283 
C 186.679889 73.558455 176.931547 67.044821 166.203583 62.601152 
C 155.475618 58.157484 143.976665 55.8702 132.3648 55.8702 
C 120.752935 55.8702 109.253982 58.157484 98.526017 62.601152 
C 87.798053 67.044821 78.049711 73.558455 69.838883 81.769283 
C 61.628055 89.980111 55.114421 99.728453 50.670752 110.456417 
C 46.227084 121.184382 43.9398 132.683335 43.9398 144.2952 
C 43.9398 155.907065 46.227084 167.406018 50.670752 178.133983 
C 55.114421 188.861947 61.628055 198.610289 69.838883 206.821117 
C 78.049711 215.031945 87.798053 221.545579 98.526017 225.989248 
C 109.253982 230.432916 120.752935 232.7202 132.3648 232.7202 
C 143.976665 232.7202 155.475618 230.432916 166.203583 225.989248 
C 176.931547 221.545579 186.679889 215.031945 194.890717 206.821117 
C 203.101545 198.610289 209.615179 188.861947 214.058848 178.133983 
C 218.502516 167.406018 220.7898 155.907065 220.7898 144.2952 
" clip-path="url(#pb566f60d54)" style="fill: none; stroke: #b0b0b0; stroke-width: 0.8; stroke-linecap: square"/>
     </g>
     <g id="text_14" transform="scale(0.72)" style="fill:#000000"><use href="#g100_31" transform="matrix(1 0 0 -1 298.0000 150.8600)"/><use href="#g100_2e" transform="matrix(1 0 0 -1 305.8750 150.8600)"/><use href="#g100_32" transform="matrix(1 0 0 -1 310.2500 150.8600)"/></g>
    </g>
   </g>
   <g id="patch_3">
    <path d="M 231.5088 144.2952 
C 231.5088 131.275729 228.944248 118.382856 223.961912 106.354434 
C 218.979577 94.326011 211.676351 83.395961 202.470195 74.189805 
C 193.264039 64.983649 182.333989 57.680423 170.305566 52.698088 
C 158.277144 47.715752 145.384271 45.1512 132.3648 45.1512 
C 119.345329 45.1512 106.452456 47.715752 94.424034 52.698088 
C 82.395611 57.680423 71.465561 64.983649 62.259405 74.189805 
C 53.053249 83.395961 45.750023 94.326011 40.767688 106.354434 
C 35.785352 118.382856 33.2208 131.275729 33.2208 144.2952 
C 33.2208 157.314671 35.785352 170.207544 40.767688 182.235966 
C 45.750023 194.264389 53.053249 205.194439 62.259405 214.400595 
C 71.465561 223.606751 82.395611 230.909977 94.424034 235.892312 
C 106.452456 240.874648 119.345329 243.4392 132.3648 243.4392 
C 145.384271 243.4392 158.277144 240.874648 170.305566 235.892312 
C 182.333989 230.909977 193.264039 223.606751 202.470195 214.400595 
C 211.676351 205.194439 218.979577 194.264389 223.961912 182.235966 
C 228.944248 170.207544 231.5088 157.314671 231.5088 144.2952 
" style="fill: none; stroke: #000000; stroke-width: 0.8; stroke-linejoin: miter; stroke-linecap: square"/>
   </g>
   <g id="text_15" transform="scale(0.72)" style="fill:#000000"><use href="#g120_46" transform="matrix(1 0 0 -1 71.0000 24.8600)"/><use href="#g120_61" transform="matrix(1 0 0 -1 79.0000 24.8600)"/><use href="#g120_72" transform="matrix(1 0 0 -1 89.1250 24.8600)"/><use href="#g120_2d" transform="matrix(1 0 0 -1 95.0000 24.8600)"/><use href="#g120_46" transform="matrix(1 0 0 -1 100.8750 24.8600)"/><use href="#g120_69" transform="matrix(1 0 0 -1 109.1250 24.8600)"/><use href="#g120_65" transform="matrix(1 0 0 -1 113.7500 24.8600)"/><use href="#g120_6c" transform="matrix(1 0 0 -1 124.0000 24.8600)"/><use href="#g120_64" transform="matrix(1 0 0 -1 128.6250 24.8600)"/><use href="#g120_44" transform="matrix(1 0 0 -1 144.3750 24.8600)"/><use href="#g120_69" transform="matrix(1 0 0 -1 157.2500 24.8600)"/><use href="#g120_66" transform="matrix(1 0 0 -1 161.8750 24.8600)"/><use href="#g120_66" transform="matrix(1 0 0 -1 167.7500 24.8600)"/><use href="#g120_72" transform="matrix(1 0 0 -1 173.6250 24.8600)"/><use href="#g120_61" transform="matrix(1 0 0 -1 180.5000 24.8600)"/><use href="#g120_63" transform="matrix(1 0 0 -1 190.6250 24.8600)"/><use href="#g120_74" transform="matrix(1 0 0 -1 199.7500 24.8600)"/><use href="#g120_69" transform="matrix(1 0 0 -1 206.2500 24.8600)"/><use href="#g120_6f" transform="matrix(1 0 0 -1 210.8750 24.8600)"/><use href="#g120_6e" transform="matrix(1 0 0 -1 221.0000 24.8600)"/><use href="#g120_50" transform="matrix(1 0 0 -1 236.7500 24.8600)"/><use href="#g120_61" transform="matrix(1 0 0 -1 246.1250 24.8600)"/><use href="#g120_74" transform="matrix(1 0 0 -1 256.2500 24.8600)"/><use href="#g120_74" transform="matrix(1 0 0 -1 262.7500 24.8600)"/><use href="#g120_65" transform="matrix(1 0 0 -1 269.2500 24.8600)"/><use href="#g120_72" transform="matrix(1 0 0 -1 279.5000 24.8600)"/><use href="#g120_6e" transform="matrix(1 0 0 -1 286.1250 24.8600)"/></g>
  </g>
  <g id="axes_2">
   <g id="patch_4">
    <path d="M 263.52 243.2592 L 273.6 243.2592 L 273.6 45.2592 L 263.52 45.2592 z" style="fill: #ffffff"/>
   </g>
   <defs><linearGradient id="cbgrad" x1="0" y1="0" x2="0" y2="1"><stop offset="0.000000" stop-color="rgb(11,0,0)"/><stop offset="0.365079" stop-color="rgb(255,0,0)"/><stop offset="0.746032" stop-color="rgb(255,255,0)"/><stop offset="1.000000" stop-color="rgb(255,255,255)"/></linearGradient></defs><rect x="263.52" y="45.2592" width="10.08" height="198" fill="url(#cbgrad)"/>
   <g id="matplotlib.axis_3"/>
   <g id="matplotlib.axis_4">
    <g id="ytick_7">
     <g id="line2d_15">
      <defs>
       <path id="m33c4ce201d" d="M 0.36 0.2592 L 3.96 0.2592" style="stroke: #000000; stroke-width: 0.8"/>
      </defs>
      <g>
       <use href="#m33c4ce201d" x="273.6" y="203.6592" style="stroke: #000000; stroke-width: 0.8"/>
      </g>
     </g>
     <g id="text_16" transform="scale(0.72)" style="fill:#000000"><use href="#g100_30" transform="matrix(1 0 0 -1 390.0000 288.8600)"/><use href="#g100_2e" transform="matrix(1 0 0 -1 397.7500 288.8600)"/><use href="#g100_32" transform="matrix(1 0 0 -1 402.1250 288.8600)"/></g>
    </g>
    <g id="ytick_8">
     <g id="line2d_16">
      <g>
       <use href="#m33c4ce201d" x="273.6" y="163.3392" style="stroke: #000000; stroke-width: 0.8"/>
      </g>
     </g>
     <g id="text_17" transform="scale(0.72)" style="fill:#000000"><use href="#g100_30" transform="matrix(1 0 0 -1 390.0000 233.8600)"/><use href="#g100_2e" transform="matrix(1 0 0 -1 397.7500 233.8600)"/><use href="#g100_34" transform="matrix(1 0 0 -1 402.1250 233.8600)"/></g>
    </g>
    <g id="ytick_9">
     <g id="line2d_17">
      <g>
       <use href="#m33c4ce201d" x="273.6" y="123.0192" style="stroke: #000000; stroke-width: 0.8"/>
      </g>
     </g>
     <g id="text_18" transform="scale(0.72)" style="fill:#000000"><use href="#g100_30" transform="matrix(1 0 0 -1 390.0000 177.8600)"/><use href="#g100_2e" transform="matrix(1 0 0 -1 397.7500 177.8600)"/><use href="#g100_36" transform="matrix(1 0 0 -1 402.1250 177.8600)"/></g>
    </g>
    <g id="ytick_10">
     <g id="line2d_18">
      <g>
       <use href="#m33c4ce201d" x="273.6" y="83.4192" style="stroke: #000000; stroke-width: 0.8"/>
      </g>
     </g>
     <g id="text_19" transform="scale(0.72)" style="fill:#000000"><use href="#g100_30" transform="matrix(1 0 0 -1 390.0000 121.8600)"/><use href="#g100_2e" transform="matrix(1 0 0 -1 397.7500 121.8600)"/><use href="#g100_38" transform="matrix(1 0 0 -1 402.1250 121.8600)"/></g>
    </g>
   </g>
   <g id="LineCollection_1"/>
   <g id="patch_5">
    <path d="M 263.88 243.6192 L 268.92 243.6192 L 273.96 243.6192 L 273.96 45.6192 L 268.92 45.6192 L 263.88 45.6192 L 263.88 243.6192 z" style="fill: none; stroke: #000000; stroke-width: 0.8; stroke-linejoin: miter; stroke-linecap: square"/>
   </g>
  </g>
  <g id="axes_3">
   <g id="patch_6">
    <path d="M 344.16 243.2592 L 663.84 243.2592 L 663.84 45.2592 L 344.16 45.2592 z" style="fill: #ffffff"/>
   </g>
   <g id="patch_7">
    <path d="M 358.56 243.2592 L 363.6 243.2592 L 363.6 243.2592 L 358.56 243.2592 z" clip-path="url(#p0f0ff74f67)" style="fill: #1f77b4"/>
   </g>
   <g id="patch_8">
    <path d="M 364.32 243.2592 L 369.36 243.2592 L 369.36 243.2592 L 364.32 243.2592 z" clip-path="url(#p0f0ff74f67)" style="fill: #1f77b4"/>
   </g>
   <g id="patch_9">
    <path d="M 370.8 243.2592 L 375.12 243.2592 L 375.12 243.2592 L 370.8 243.2592 z" clip-path="url(#p0f0ff74f67)" style="fill: #1f77b4"/>
   </g>
   <g id="patch_10">
    <path d="M 376.56 243.2592 L 381.6 243.2592 L 381.6 243.2592 L 376.56 243.2592 z" clip-path="url(#p0f0ff74f67)" style="fill: #1f77b4"/>
   </g>
   <g id="patch_11">
    <path d="M 382.32 243.2592 L 387.36 243.2592 L 387.36 243.2592 L 382.32 243.2592 z" clip-path="url(#p0f0ff74f67)" style="fill: #1f77b4"/>
   </g>
   <g id="patch_12">
    <path d="M 388.8 243.2592 L 393.12 243.2592 L 393.12 243.2592 L 388.8 243.2592 z" clip-path="url(#p0f0ff74f67)" style="fill: #1f77b4"/>
   </g>
   <g id="patch_13">
    <path d="M 394.56 243.2592 L 398.88 243.2592 L 398.88 243.2592 L 394.56 243.2592 z" clip-path="url(#p0f0ff74f67)" style="fill: #1f77b4"/>
   </g>
   <g id="patch_14">
    <path d="M 400.32 243.2592 L 405.36 243.2592 L 405.36 243.2592 L 400.32 243.2592 z" clip-path="url(#p0f0ff74f67)" style="fill: #1f77b4"/>
   </g>
   <g id="patch_15">
    <path d="M 406.08 243.2592 L 411.12 243.2592 L 411.12 243.2592 L 406.08 243.2592 z" clip-path="url(#p0f0ff74f67)" style="fill: #1f77b4"/>
   </g>
   <g id="patch_16">
    <path d="M 412.56 243.2592 L 416.88 243.2592 L 416.88 243.2592 L 412.56 243.2592 z" clip-path="url(#p0f0ff74f67)" style="fill: #1f77b4"/>
   </g>
   <g id="patch_17">
    <path d="M 418.32 243.2592 L 423.36 243.2592 L 423.36 243.2592 L 418.32 243.2592 z" clip-path="url(#p0f0ff74f67)" style="fill: #1f77b4"/>
   </g>
   <g id="patch_18">
    <path d="M 424.08 243.2592 L 429.12 243.2592 L 429.12 243.2592 L 424.08 243.2592 z" clip-path="url(#p0f0ff74f67)" style="fill: #1f77b4"/>
   </g>
   <g id="patch_19">
    <path d="M 429.84 243.2592 L 434.88 243.2592 L 434.88 243.2592 L 429.84 243.2592 z" clip-path="url(#p0f0ff74f67)" style="fill: #1f77b4"/>
   </g>
   <g id="patch_20">
    <path d="M 436.32 243.2592 L 440.64 243.2592 L 440.64 243.2592 L 436.32 243.2592 z" clip-path="url(#p0f0ff74f67)" style="fill: #1f77b4"/>
   </g>
   <g id="patch_21">
    <path d="M 442.08 243.2592 L 447.12 243.2592 L 447.12 243.2592 L 442.08 243.2592 z" clip-path="url(#p0f0ff74f67)" style="fill: #1f77b4"/>
   </g>
   <g id="patch_22">
    <path d="M 447.84 243.2592 L 452.88 243.2592 L 452.88 243.2592 L 447.84 243.2592 z" clip-path="url(#p0f0ff74f67)" style="fill: #1f77b4"/>
   </g>
   <g id="patch_23">
    <path d="M 454.32 243.2592 L 458.64 243.2592 L 458.64 243.2592 L 454.32 243.2592 z" clip-path="url(#p0f0ff74f67)" style="fill: #1f77b4"/>
   </g>
   <g id="patch_24">
    <path d="M 460.08 243.2592 L 464.4 243.2592 L 464.4 243.2592 L 460.08 243.2592 z" clip-path="url(#p0f0ff74f67)" style="fill: #1f77b4"/>
   </g>
   <g id="patch_25">
    <path d="M 465.84 243.2592 L 470.88 243.2592 L 470.88 243.2592 L 465.84 243.2592 z" clip-path="url(#p0f0ff74f67)" style="fill: #1f77b4"/>
   </g>
   <g id="patch_26">
    <path d="M 471.6 243.2592 L 476.64 243.2592 L 476.64 243.2592 L 471.6 243.2592 z" clip-path="url(#p0f0ff74f67)" style="fill: #1f77b4"/>
   </g>
   <g id="patch_27">
    <path d="M 478.08 243.2592 L 482.4 243.2592 L 482.4 243.2592 L 478.08 243.2592 z" clip-path="url(#p0f0ff74f67)" style="fill: #1f77b4"/>
   </g>
   <g id="patch_28">
    <path d="M 483.84 243.2592 L 488.88 243.2592 L 488.88 243.2592 L 483.84 243.2592 z" clip-path="url(#p0f0ff74f67)" style="fill: #1f77b4"/>
   </g>
   <g id="patch_29">
    <path d="M 489.6 243.2592 L 494.64 243.2592 L 494.64 243.2592 L 489.6 243.2592 z" clip-path="url(#p0f0ff74f67)" style="fill: #1f77b4"/>
   </g>
   <g id="patch_30">
    <path d="M 495.36 243.2592 L 500.4 243.2592 L 500.4 243.2592 L 495.36 243.2592 z" clip-path="url(#p0f0ff74f67)" style="fill: #1f77b4"/>
   </g>
   <g id="patch_31">
    <path d="M 501.84 243.2592 L 506.16 243.2592 L 506.16 54.6192 L 501.84 54.6192 z" clip-path="url(#p0f0ff74f67)" style="fill: #1f77b4"/>
   </g>
   <g id="patch_32">
    <path d="M 507.6 243.2592 L 512.64 243.2592 L 512.64 243.2592 L 507.6 243.2592 z" clip-path="url(#p0f0ff74f67)" style="fill: #1f77b4"/>
   </g>
   <g id="patch_33">
    <path d="M 513.36 243.2592 L 518.4 243.2592 L 518.4 243.2592 L 513.36 243.2592 z" clip-path="url(#p0f0ff74f67)" style="fill: #1f77b4"/>
   </g>
   <g id="patch_34">
    <path d="M 519.84 243.2592 L 524.16 243.2592 L 524.16 243.2592 L 519.84 243.2592 z" clip-path="url(#p0f0ff74f67)" style="fill: #1f77b4"/>
   </g>
   <g id="patch_35">
    <path d="M 525.6 243.2592 L 529.92 243.2592 L 529.92 243.2592 L 525.6 243.2592 z" clip-path="url(#p0f0ff74f67)" style="fill: #1f77b4"/>
   </g>
   <g id="patch_36">
    <path d="M 531.36 243.2592 L 536.4 243.2592 L 536.4 243.2592 L 531.36 243.2592 z" clip-path="url(#p0f0ff74f67)" style="fill: #1f77b4"/>
   </g>
   <g id="patch_37">
    <path d="M 537.12 243.2592 L 542.16 243.2592 L 542.16 243.2592 L 537.12 243.2592 z" clip-path="url(#p0f0ff74f67)" style="fill: #1f77b4"/>
   </g>
   <g id="patch_38">
    <path d="M 543.6 243.2592 L 547.92 243.2592 L 547.92 243.2592 L 543.6 243.2592 z" clip-path="url(#p0f0ff74f67)" style="fill: #1f77b4"/>
   </g>
   <g id="patch_39">
    <path d="M 549.36 243.2592 L 554.4 243.2592 L 554.4 243.2592 L 549.36 243.2592 z" clip-path="url(#p0f0ff74f67)" style="fill: #1f77b4"/>
   </g>
   <g id="patch_40">
    <path d="M 555.12 243.2592 L 560.16 243.2592 L 560.16 243.2592 L 555.12 243.2592 z" clip-path="url(#p0f0ff74f67)" style="fill: #1f77b4"/>
   </g>
   <g id="patch_41">
    <path d="M 561.6 243.2592 L 565.92 243.2592 L 565.92 243.2592 L 561.6 243.2592 z" clip-path="url(#p0f0ff74f67)" style="fill: #1f77b4"/>
   </g>
   <g id="patch_42">
    <path d="M 567.36 243.2592 L 571.68 243.2592 L 571.68 243.2592 L 567.36 243.2592 z" clip-path="url(#p0f0ff74f67)" style="fill: #1f77b4"/>
   </g>
   <g id="patch_43">
    <path d="M 573.12 243.2592 L 578.16 243.2592 L 578.16 243.2592 L 573.12 243.2592 z" clip-path="url(#p0f0ff74f67)" style="fill: #1f77b4"/>
   </g>
   <g id="patch_44">
    <path d="M 578.88 243.2592 L 583.92 243.2592 L 583.92 243.2592 L 578.88 243.2592 z" clip-path="url(#p0f0ff74f67)" style="fill: #1f77b4"/>
   </g>
   <g id="patch_45">
    <path d="M 585.36 243.2592 L 589.68 243.2592 L 589.68 243.2592 L 585.36 243.2592 z" clip-path="url(#p0f0ff74f67)" style="fill: #1f77b4"/>
   </g>
   <g id="patch_46">
    <path d="M 591.12 243.2592 L 596.16 243.2592 L 596.16 243.2592 L 591.12 243.2592 z" clip-path="url(#p0f0ff74f67)" style="fill: #1f77b4"/>
   </g>
   <g id="patch_47">
    <path d="M 596.88 243.2592 L 601.92 243.2592 L 601.92 243.2592 L 596.88 243.2592 z" clip-path="url(#p0f0ff74f67)" style="fill: #1f77b4"/>
   </g>
   <g id="patch_48">
    <path d="M 602.64 243.2592 L 607.68 243.2592 L 607.68 243.2592 L 602.64 243.2592 z" clip-path="url(#p0f0ff74f67)" style="fill: #1f77b4"/>
   </g>
   <g id="patch_49">
    <path d="M 609.12 243.2592 L 613.44 243.2592 L 613.44 243.2592 L 609.12 243.2592 z" clip-path="url(#p0f0ff74f67)" style="fill: #1f77b4"/>
   </g>
   <g id="patch_50">
    <path d="M 614.88 243.2592 L 619.92 243.2592 L 619.92 243.2592 L 614.88 243.2592 z" clip-path="url(#p0f0ff74f67)" style="fill: #1f77b4"/>
   </g>
   <g id="patch_51">
    <path d="M 620.64 243.2592 L 625.68 243.2592 L 625.68 243.2592 L 620.64 243.2592 z" clip-path="url(#p0f0ff74f67)" style="fill: #1f77b4"/>
   </g>
   <g id="patch_52">
    <path d="M 627.12 243.2592 L 631.44 243.2592 L 631.44 243.2592 L 627.12 243.2592 z" clip-path="url(#p0f0ff74f67)" style="fill: #1f77b4"/>
   </g>
   <g id="patch_53">
    <path d="M 632.88 243.2592 L 637.2 243.2592 L 637.2 243.2592 L 632.88 243.2592 z" clip-path="url(#p0f0ff74f67)" style="fill: #1f77b4"/>
   </g>
   <g id="patch_54">
    <path d="M 638.64 243.2592 L 643.68 243.2592 L 643.68 243.2592 L 638.64 243.2592 z" clip-path="url(#p0f0ff74f67)" style="fill: #1f77b4"/>
   </g>
   <g id="patch_55">
    <path d="M 644.4 243.2592 L 649.44 243.2592 L 649.44 243.2592 L 644.4 243.2592 z" clip-path="url(#p0f0ff74f67)" style="fill: #1f77b4"/>
   </g>
   <g id="patch_56">
    <path d="M 358.56 243.2592 L 363.6 243.2592 L 363.6 239.6592 L 358.56 239.6592 z" clip-path="url(#p0f0ff74f67)" style="fill: #00ffff; opacity: 0.3"/>
   </g>
   <g id="patch_57">
    <path d="M 364.32 243.2592 L 369.36 243.2592 L 369.36 239.6592 L 364.32 239.6592 z" clip-path="url(#p0f0ff74f67)" style="fill: #00ffff; opacity: 0.3"/>
   </g>
   <g id="patch_58">
    <path d="M 370.8 243.2592 L 375.12 243.2592 L 375.12 239.6592 L 370.8 239.6592 z" clip-path="url(#p0f0ff74f67)" style="fill: #00ffff; opacity: 0.3"/>
   </g>
   <g id="patch_59">
    <path d="M 376.56 243.2592 L 381.6 243.2592 L 381.6 239.6592 L 376.56 239.6592 z" clip-path="url(#p0f0ff74f67)" style="fill: #00ffff; opacity: 0.3"/>
   </g>
   <g id="patch_60">
    <path d="M 382.32 243.2592 L 387.36 243.2592 L 387.36 239.6592 L 382.32 239.6592 z" clip-path="url(#p0f0ff74f67)" style="fill: #00ffff; opacity: 0.3"/>
   </g>
   <g id="patch_61">
    <path d="M 388.8 243.2592 L 393.12 243.2592 L 393.12 239.6592 L 388.8 239.6592 z" clip-path="url(#p0f0ff74f67)" style="fill: #00ffff; opacity: 0.3"/>
   </g>
   <g id="patch_62">
    <path d="M 394.56 243.2592 L 398.88 243.2592 L 398.88 239.6592 L 394.56 239.6592 z" clip-path="url(#p0f0ff74f67)" style="fill: #00ffff; opacity: 0.3"/>
   </g>
   <g id="patch_63">
    <path d="M 400.32 243.2592 L 405.36 243.2592 L 405.36 239.6592 L 400.32 239.6592 z" clip-path="url(#p0f0ff74f67)" style="fill: #00ffff; opacity: 0.3"/>
   </g>
   <g id="patch_64">
    <path d="M 406.08 243.2592 L 411.12 243.2592 L 411.12 239.6592 L 406.08 239.6592 z" clip-path="url(#p0f0ff74f67)" style="fill: #00ffff; opacity: 0.3"/>
   </g>
   <g id="patch_65">
    <path d="M 412.56 243.2592 L 416.88 243.2592 L 416.88 239.6592 L 412.56 239.6592 z" clip-path="url(#p0f0ff74f67)" style="fill: #00ffff; opacity: 0.3"/>
   </g>
   <g id="patch_66">
    <path d="M 418.32 243.2592 L 423.36 243.2592 L 423.36 239.6592 L 418.32 239.6592 z" clip-path="url(#p0f0ff74f67)" style="fill: #00ffff; opacity: 0.3"/>
   </g>
   <g id="patch_67">
    <path d="M 424.08 243.2592 L 429.12 243.2592 L 429.12 239.6592 L 424.08 239.6592 z" clip-path="url(#p0f0ff74f67)" style="fill: #00ffff; opacity: 0.3"/>
   </g>
   <g id="patch_68">
    <path d="M 429.84 243.2592 L 434.88 243.2592 L 434.88 239.6592 L 429.84 239.6592 z" clip-path="url(#p0f0ff74f67)" style="fill: #00ffff; opacity: 0.3"/>
   </g>
   <g id="patch_69">
    <path d="M 436.32 243.2592 L 440.64 243.2592 L 440.64 239.6592 L 436.32 239.6592 z" clip-path="url(#p0f0ff74f67)" style="fill: #00ffff; opacity: 0.3"/>
   </g>
   <g id="patch_70">
    <path d="M 442.08 243.2592 L 447.12 243.2592 L 447.12 239.6592 L 442.08 239.6592 z" clip-path="url(#p0f0ff74f67)" style="fill: #00ffff; opacity: 0.3"/>
   </g>
   <g id="patch_71">
    <path d="M 447.84 243.2592 L 452.88 243.2592 L 452.88 239.6592 L 447.84 239.6592 z" clip-path="url(#p0f0ff74f67)" style="fill: #00ffff; opacity: 0.3"/>
   </g>
   <g id="patch_72">
    <path d="M 454.32 243.2592 L 458.64 243.2592 L 458.64 239.6592 L 454.32 239.6592 z" clip-path="url(#p0f0ff74f67)" style="fill: #00ffff; opacity: 0.3"/>
   </g>
   <g id="patch_73">
    <path d="M 460.08 243.2592 L 464.4 243.2592 L 464.4 239.6592 L 460.08 239.6592 z" clip-path="url(#p0f0ff74f67)" style="fill: #00ffff; opacity: 0.3"/>
   </g>
   <g id="patch_74">
    <path d="M 465.84 243.2592 L 470.88 243.2592 L 470.88 239.6592 L 465.84 239.6592 z" clip-path="url(#p0f0ff74f67)" style="fill: #00ffff; opacity: 0.3"/>
   </g>
   <g id="patch_75">
    <path d="M 471.6 243.2592 L 476.64 243.2592 L 476.64 239.6592 L 471.6 239.6592 z" clip-path="url(#p0f0ff74f67)" style="fill: #00ffff; opacity: 0.3"/>
   </g>
   <g id="patch_76">
    <path d="M 478.08 243.2592 L 482.4 243.2592 L 482.4 239.6592 L 478.08 239.6592 z" clip-path="url(#p0f0ff74f67)" style="fill: #00ffff; opacity: 0.3"/>
   </g>
   <g id="patch_77">
    <path d="M 483.84 243.2592 L 488.88 243.2592 L 488.88 239.6592 L 483.84 239.6592 z" clip-path="url(#p0f0ff74f67)" style="fill: #00ffff; opacity: 0.3"/>
   </g>
   <g id="patch_78">
    <path d="M 489.6 243.2592 L 494.64 243.2592 L 494.64 239.6592 L 489.6 239.6592 z" clip-path="url(#p0f0ff74f67)" style="fill: #00ffff; opacity: 0.3"/>
   </g>
   <g id="patch_79">
    <path d="M 495.36 243.2592 L 500.4 243.2592 L 500.4 239.6592 L 495.36 239.6592 z" clip-path="url(#p0f0ff74f67)" style="fill: #00ffff; opacity: 0.3"/>
   </g>
   <g id="patch_80">
    <path d="M 501.84 243.2592 L 506.16 243.2592 L 506.16 239.6592 L 501.84 239.6592 z" clip-path="url(#p0f0ff74f67)" style="fill: #00ffff; opacity: 0.3"/>
   </g>
   <g id="patch_81">
    <path d="M 507.6 243.2592 L 512.64 243.2592 L 512.64 239.6592 L 507.6 239.6592 z" clip-path="url(#p0f0ff74f67)" style="fill: #00ffff; opacity: 0.3"/>
   </g>
   <g id="patch_82">
    <path d="M 513.36 243.2592 L 518.4 243.2592 L 518.4 239.6592 L 513.36 239.6592 z" clip-path="url(#p0f0ff74f67)" style="fill: #00ffff; opacity: 0.3"/>
   </g>
   <g id="patch_83">
    <path d="M 519.84 243.2592 L 524.16 243.2592 L 524.16 239.6592 L 519.84 239.6592 z" clip-path="url(#p0f0ff74f67)" style="fill: #00ffff; opacity: 0.3"/>
   </g>
   <g id="patch_84">
    <path d="M 525.6 243.2592 L 529.92 243.2592 L 529.92 239.6592 L 525.6 239.6592 z" clip-path="url(#p0f0ff74f67)" style="fill: #00ffff; opacity: 0.3"/>
   </g>
   <g id="patch_85">
    <path d="M 531.36 243.2592 L 536.4 243.2592 L 536.4 239.6592 L 531.36 239.6592 z" clip-path="url(#p0f0ff74f67)" style="fill: #00ffff; opacity: 0.3"/>
   </g>
   <g id="patch_86">
    <path d="M 537.12 243.2592 L 542.16 243.2592 L 542.16 239.6592 L 537.12 239.6592 z" clip-path="url(#p0f0ff74f67)" style="fill: #00ffff; opacity: 0.3"/>
   </g>
   <g id="patch_87">
    <path d="M 543.6 243.2592 L 547.92 243.2592 L 547.92 239.6592 L 543.6 239.6592 z" clip-path="url(#p0f0ff74f67)" style="fill: #00ffff; opacity: 0.3"/>
   </g>
   <g id="patch_88">
    <path d="M 549.36 243.2592 L 554.4 243.2592 L 554.4 239.6592 L 549.36 239.6592 z" clip-path="url(#p0f0ff74f67)" style="fill: #00ffff; opacity: 0.3"/>
   </g>
   <g id="patch_89">
    <path d="M 555.12 243.2592 L 560.16 243.2592 L 560.16 239.6592 L 555.12 239.6592 z" clip-path="url(#p0f0ff74f67)" style="fill: #00ffff; opacity: 0.3"/>
   </g>
   <g id="patch_90">
    <path d="M 561.6 243.2592 L 565.92 243.2592 L 565.92 239.6592 L 561.6 239.6592 z" clip-path="url(#p0f0ff74f67)" style="fill: #00ffff; opacity: 0.3"/>
   </g>
   <g id="patch_91">
    <path d="M 567.36 243.2592 L 571.68 243.2592 L 571.68 239.6592 L 567.36 239.6592 z" clip-path="url(#p0f0ff74f67)" style="fill: #00ffff; opacity: 0.3"/>
   </g>
   <g id="patch_92">
    <path d="M 573.12 243.2592 L 578.16 243.2592 L 578.16 239.6592 L 573.12 239.6592 z" clip-path="url(#p0f0ff74f67)" style="fill: #00ffff; opacity: 0.3"/>
   </g>
   <g id="patch_93">
    <path d="M 578.88 243.2592 L 583.92 243.2592 L 583.92 239.6592 L 578.88 239.6592 z" clip-path="url(#p0f0ff74f67)" style="fill: #00ffff; opacity: 0.3"/>
   </g>
   <g id="patch_94">
    <path d="M 585.36 243.2592 L 589.68 243.2592 L 589.68 239.6592 L 585.36 239.6592 z" clip-path="url(#p0f0ff74f67)" style="fill: #00ffff; opacity: 0.3"/>
   </g>
   <g id="patch_95">
    <path d="M 591.12 243.2592 L 596.16 243.2592 L 596.16 239.6592 L 591.12 239.6592 z" clip-path="url(#p0f0ff74f67)" style="fill: #00ffff; opacity: 0.3"/>
   </g>
   <g id="patch_96">
    <path d="M 596.88 243.2592 L 601.92 243.2592 L 601.92 239.6592 L 596.88 239.6592 z" clip-path="url(#p0f0ff74f67)" style="fill: #00ffff; opacity: 0.3"/>
   </g>
   <g id="patch_97">
    <path d="M 602.64 243.2592 L 607.68 243.2592 L 607.68 239.6592 L 602.64 239.6592 z" clip-path="url(#p0f0ff74f67)" style="fill: #00ffff; opacity: 0.3"/>
   </g>
   <g id="patch_98">
    <path d="M 609.12 243.2592 L 613.44 243.2592 L 613.44 239.6592 L 609.12 239.6592 z" clip-path="url(#p0f0ff74f67)" style="fill: #00ffff; opacity: 0.3"/>
   </g>
   <g id="patch_99">
    <path d="M 614.88 243.2592 L 619.92 243.2592 L 619.92 239.6592 L 614.88 239.6592 z" clip-path="url(#p0f0ff74f67)" style="fill: #00ffff; opacity: 0.3"/>
   </g>
   <g id="patch_100">
    <path d="M 620.64 243.2592 L 625.68 243.2592 L 625.68 239.6592 L 620.64 239.6592 z" clip-path="url(#p0f0ff74f67)" style="fill: #00ffff; opacity: 0.3"/>
   </g>
   <g id="patch_101">
    <path d="M 627.12 243.2592 L 631.44 243.2592 L 631.44 239.6592 L 627.12 239.6592 z" clip-path="url(#p0f0ff74f67)" style="fill: #00ffff; opacity: 0.3"/>
   </g>
   <g id="patch_102">
    <path d="M 632.88 243.2592 L 637.2 243.2592 L 637.2 239.6592 L 632.88 239.6592 z" clip-path="url(#p0f0ff74f67)" style="fill: #00ffff; opacity: 0.3"/>
   </g>
   <g id="patch_103">
    <path d="M 638.64 243.2592 L 643.68 243.2592 L 643.68 239.6592 L 638.64 239.6592 z" clip-path="url(#p0f0ff74f67)" style="fill: #00ffff; opacity: 0.3"/>
   </g>
   <g id="patch_104">
    <path d="M 644.4 243.2592 L 649.44 243.2592 L 649.44 239.6592 L 644.4 239.6592 z" clip-path="url(#p0f0ff74f67)" style="fill: #00ffff; opacity: 0.3"/>
   </g>
   <g id="matplotlib.axis_5">
    <g id="xtick_9">
     <g id="line2d_19">
      <defs>
       <path id="m1504cfccaf" d="M 0.36 0.2592 L 0.36 3.8592" style="stroke: #000000; stroke-width: 0.8"/>
      </defs>
      <g>
       <use href="#m1504cfccaf" x="360.72" y="243.2592" style="stroke: #000000; stroke-width: 0.8"/>
      </g>
     </g>
     <g id="text_20" transform="scale(0.72)" style="fill:#000000"><use href="#g80_28" transform="matrix(0 -1 -1 0 505.0000 384.8600)"/><use href="#g80_2d" transform="matrix(0 -1 -1 0 505.0000 380.4850)"/><use href="#g80_33" transform="matrix(0 -1 -1 0 505.0000 376.4850)"/><use href="#g80_2c" transform="matrix(0 -1 -1 0 505.0000 369.4850)"/><use href="#g80_2d" transform="matrix(0 -1 -1 0 505.0000 365.9850)"/><use href="#g80_33" transform="matrix(0 -1 -1 0 505.0000 361.9850)"/><use href="#g80_29" transform="matrix(0 -1 -1 0 505.0000 354.9850)"/></g>
    </g>
    <g id="xtick_10">
     <g id="line2d_20">
      <g>
       <use href="#m1504cfccaf" x="367.2" y="243.2592" style="stroke: #000000; stroke-width: 0.8"/>
      </g>
     </g>
     <g id="text_21" transform="scale(0.72)" style="fill:#000000"><use href="#g80_28" transform="matrix(0 -1 -1 0 513.0000 384.8600)"/><use href="#g80_2d" transform="matrix(0 -1 -1 0 513.0000 380.4850)"/><use href="#g80_33" transform="matrix(0 -1 -1 0 513.0000 376.4850)"/><use href="#g80_2c" transform="matrix(0 -1 -1 0 513.0000 369.4850)"/><use href="#g80_2d" transform="matrix(0 -1 -1 0 513.0000 365.9850)"/><use href="#g80_32" transform="matrix(0 -1 -1 0 513.0000 361.9850)"/><use href="#g80_29" transform="matrix(0 -1 -1 0 513.0000 354.8600)"/></g>
    </g>
    <g id="xtick_11">
     <g id="line2d_21">
      <g>
       <use href="#m1504cfccaf" x="372.96" y="243.2592" style="stroke: #000000; stroke-width: 0.8"/>
      </g>
     </g>
     <g id="text_22" transform="scale(0.72)" style="fill:#000000"><use href="#g80_28" transform="matrix(0 -1 -1 0 522.0000 384.8600)"/><use href="#g80_2d" transform="matrix(0 -1 -1 0 522.0000 380.4850)"/><use href="#g80_33" transform="matrix(0 -1 -1 0 522.0000 376.4850)"/><use href="#g80_2c" transform="matrix(0 -1 -1 0 522.0000 369.4850)"/><use href="#g80_2d" transform="matrix(0 -1 -1 0 522.0000 365.9850)"/><use href="#g80_31" transform="matrix(0 -1 -1 0 522.0000 361.9850)"/><use href="#g80_29" transform="matrix(0 -1 -1 0 522.0000 354.9850)"/></g>
    </g>
    <g id="xtick_12">
     <g id="line2d_22">
      <g>
       <use href="#m1504cfccaf" x="378.72" y="243.2592" style="stroke: #000000; stroke-width: 0.8"/>
      </g>
     </g>
     <g id="text_23" transform="scale(0.72)" style="fill:#000000"><use href="#g80_28" transform="matrix(0 -1 -1 0 530.0000 380.8600)"/><use href="#g80_2d" transform="matrix(0 -1 -1 0 530.0000 376.4850)"/><use href="#g80_33" transform="matrix(0 -1 -1 0 530.0000 372.4850)"/><use href="#g80_2c" transform="matrix(0 -1 -1 0 530.0000 365.4850)"/><use href="#g80_30" transform="matrix(0 -1 -1 0 530.0000 361.9850)"/><use href="#g80_29" transform="matrix(0 -1 -1 0 530.0000 354.9850)"/></g>
    </g>
    <g id="xtick_13">
     <g id="line2d_23">
      <g>
       <use href="#m1504cfccaf" x="385.2" y="243.2592" style="stroke: #000000; stroke-width: 0.8"/>
      </g>
     </g>
     <g id="text_24" transform="scale(0.72)" style="fill:#000000"><use href="#g80_28" transform="matrix(0 -1 -1 0 538.0000 380.8600)"/><use href="#g80_2d" transform="matrix(0 -1 -1 0 538.0000 376.4850)"/><use href="#g80_33" transform="matrix(0 -1 -1 0 538.0000 372.4850)"/><use href="#g80_2c" transform="matrix(0 -1 -1 0 538.0000 365.4850)"/><use href="#g80_31" transform="matrix(0 -1 -1 0 538.0000 361.9850)"/><use href="#g80_29" transform="matrix(0 -1 -1 0 538.0000 354.9850)"/></g>
    </g>
    <g id="xtick_14">
     <g id="line2d_24">
      <g>
       <use href="#m1504cfccaf" x="390.96" y="243.2592" style="stroke: #000000; stroke-width: 0.8"/>
      </g>
     </g>
     <g id="text_25" transform="scale(0.72)" style="fill:#000000"><use href="#g80_28" transform="matrix(0 -1 -1 0 546.0000 380.8600)"/><use href="#g80_2d" transform="matrix(0 -1 -1 0 546.0000 376.4850)"/><use href="#g80_33" transform="matrix(0 -1 -1 0 546.0000 372.4850)"/><use href="#g80_2c" transform="matrix(0 -1 -1 0 546.0000 365.4850)"/><use href="#g80_32" transform="matrix(0 -1 -1 0 546.0000 361.9850)"/><use href="#g80_29" transform="matrix(0 -1 -1 0 546.0000 354.8600)"/></g>
    </g>
    <g id="xtick_15">
     <g id="line2d_25">
      <g>
       <use href="#m1504cfccaf" x="396.72" y="243.2592" style="stroke: #000000; stroke-width: 0.8"/>
      </g>
     </g>
     <g id="text_26" transform="scale(0.72)" style="fill:#000000"><use href="#g80_28" transform="matrix(0 -1 -1 0 555.0000 380.8600)"/><use href="#g80_2d" transform="matrix(0 -1 -1 0 555.0000 376.4850)"/><use href="#g80_33" transform="matrix(0 -1 -1 0 555.0000 372.4850)"/><use href="#g80_2c" transform="matrix(0 -1 -1 0 555.0000 365.4850)"/><use href="#g80_33" transform="matrix(0 -1 -1 0 555.0000 361.9850)"/><use href="#g80_29" transform="matrix(0 -1 -1 0 555.0000 354.9850)"/></g>
    </g>
    <g id="xtick_16">
     <g id="line2d_26">
      <g>
       <use href="#m1504cfccaf" x="402.48" y="243.2592" style="stroke: #000000; stroke-width: 0.8"/>
      </g>
     </g>
     <g id="text_27" transform="scale(0.72)" style="fill:#000000"><use href="#g80_28" transform="matrix(0 -1 -1 0 563.0000 384.8600)"/><use href="#g80_2d" transform="matrix(0 -1 -1 0 563.0000 380.4850)"/><use href="#g80_32" transform="matrix(0 -1 -1 0 563.0000 376.4850)"/><use href="#g80_2c" transform="matrix(0 -1 -1 0 563.0000 369.3600)"/><use href="#g80_2d" transform="matrix(0 -1 -1 0 563.0000 365.8600)"/><use href="#g80_33" transform="matrix(0 -1 -1 0 563.0000 361.8600)"/><use href="#g80_29" transform="matrix(0 -1 -1 0 563.0000 354.8600)"/></g>
    </g>
    <g id="xtick_17">
     <g id="line2d_27">
      <g>
       <use href="#m1504cfccaf" x="408.96" y="243.2592" style="stroke: #000000; stroke-width: 0.8"/>
      </g>
     </g>
     <g id="text_28" transform="scale(0.72)" style="fill:#000000"><use href="#g80_28" transform="matrix(0 -1 -1 0 571.0000 384.8600)"/><use href="#g80_2d" transform="matrix(0 -1 -1 0 571.0000 380.4850)"/><use href="#g80_32" transform="matrix(0 -1 -1 0 571.0000 376.4850)"/><use href="#g80_2c" transform="matrix(0 -1 -1 0 571.0000 369.3600)"/><use href="#g80_2d" transform="matrix(0 -1 -1 0 571.0000 365.8600)"/><use href="#g80_32" transform="matrix(0 -1 -1 0 571.0000 361.8600)"/><use href="#g80_29" transform="matrix(0 -1 -1 0 571.0000 354.7350)"/></g>
    </g>
    <g id="xtick_18">
     <g id="line2d_28">
      <g>
       <use href="#m1504cfccaf" x="414.72" y="243.2592" style="stroke: #000000; stroke-width: 0.8"/>
      </g>
     </g>
     <g id="text_29" transform="scale(0.72)" style="fill:#000000"><use href="#g80_28" transform="matrix(0 -1 -1 0 579.0000 384.8600)"/><use href="#g80_2d" transform="matrix(0 -1 -1 0 579.0000 380.4850)"/><use href="#g80_32" transform="matrix(0 -1 -1 0 579.0000 376.4850)"/><use href="#g80_2c" transform="matrix(0 -1 -1 0 579.0000 369.3600)"/><use href="#g80_2d" transform="matrix(0 -1 -1 0 579.0000 365.8600)"/><use href="#g80_31" transform="matrix(0 -1 -1 0 579.0000 361.8600)"/><use href="#g80_29" transform="matrix(0 -1 -1 0 579.0000 354.8600)"/></g>
    </g>
    <g id="xtick_19">
     <g id="line2d_29">
      <g>
       <use href="#m1504cfccaf" x="420.48" y="243.2592" style="stroke: #000000; stroke-width: 0.8"/>
      </g>
     </g>
     <g id="text_30" transform="scale(0.72)" style="fill:#000000"><use href="#g80_28" transform="matrix(0 -1 -1 0 588.0000 380.8600)"/><use href="#g80_2d" transform="matrix(0 -1 -1 0 588.0000 376.4850)"/><use href="#g80_32" transform="matrix(0 -1 -1 0 588.0000 372.4850)"/><use href="#g80_2c" transform="matrix(0 -1 -1 0 588.0000 365.3600)"/><use href="#g80_30" transform="matrix(0 -1 -1 0 588.0000 361.8600)"/><use href="#g80_29" transform="matrix(0 -1 -1 0 588.0000 354.8600)"/></g>
    </g>
    <g id="xtick_20">
     <g id="line2d_30">
      <g>
       <use href="#m1504cfccaf" x="426.24" y="243.2592" style="stroke: #000000; stroke-width: 0.8"/>
      </g>
     </g>
     <g id="text_31" transform="scale(0.72)" style="fill:#000000"><use href="#g80_28" transform="matrix(0 -1 -1 0 596.0000 380.8600)"/><use href="#g80_2d" transform="matrix(0 -1 -1 0 596.0000 376.4850)"/><use href="#g80_32" transform="matrix(0 -1 -1 0 596.0000 372.4850)"/><use href="#g80_2c" transform="matrix(0 -1 -1 0 596.0000 365.3600)"/><use href="#g80_31" transform="matrix(0 -1 -1 0 596.0000 361.8600)"/><use href="#g80_29" transform="matrix(0 -1 -1 0 596.0000 354.8600)"/></g>
    </g>
    <g id="xtick_21">
     <g id="line2d_31">
      <g>
       <use href="#m1504cfccaf" x="432.72" y="243.2592" style="stroke: #000000; stroke-width: 0.8"/>
      </g>
     </g>
     <g id="text_32" transform="scale(0.72)" style="fill:#000000"><use href="#g80_28" transform="matrix(0 -1 -1 0 604.0000 380.8600)"/><use href="#g80_2d" transform="matrix(0 -1 -1 0 604.0000 376.4850)"/><use href="#g80_32" transform="matrix(0 -1 -1 0 604.0000 372.4850)"/><use href="#g80_2c" transform="matrix(0 -1 -1 0 604.0000 365.3600)"/><use href="#g80_32" transform="matrix(0 -1 -1 0 604.0000 361.8600)"/><use href="#g80_29" transform="matrix(0 -1 -1 0 604.0000 354.7350)"/></g>
    </g>
    <g id="xtick_22">
     <g id="line2d_32">
      <g>
       <use href="#m1504cfccaf" x="438.48" y="243.2592" style="stroke: #000000; stroke-width: 0.8"/>
      </g>
     </g>
     <g id="text_33" transform="scale(0.72)" style="fill:#000000"><use href="#g80_28" transform="matrix(0 -1 -1 0 613.0000 380.8600)"/><use href="#g80_2d" transform="matrix(0 -1 -1 0 613.0000 376.4850)"/><use href="#g80_32" transform="matrix(0 -1 -1 0 613.0000 372.4850)"/><use href="#g80_2c" transform="matrix(0 -1 -1 0 613.0000 365.3600)"/><use href="#g80_33" transform="matrix(0 -1 -1 0 613.0000 361.8600)"/><use href="#g80_29" transform="matrix(0 -1 -1 0 613.0000 354.8600)"/></g>
    </g>
    <g id="xtick_23">
     <g id="line2d_33">
      <g>
       <use href="#m1504cfccaf" x="444.24" y="243.2592" style="stroke: #000000; stroke-width: 0.8"/>
      </g>
     </g>
     <g id="text_34" transform="scale(0.72)" style="fill:#000000"><use href="#g80_28" transform="matrix(0 -1 -1 0 621.0000 384.8600)"/><use href="#g80_2d" transform="matrix(0 -1 -1 0 621.0000 380.4850)"/><use href="#g80_31" transform="matrix(0 -1 -1 0 621.0000 376.4850)"/><use href="#g80_2c" transform="matrix(0 -1 -1 0 621.0000 369.4850)"/><use href="#g80_2d" transform="matrix(0 -1 -1 0 621.0000 365.9850)"/><use href="#g80_33" transform="matrix(0 -1 -1 0 621.0000 361.9850)"/><use href="#g80_29" transform="matrix(0 -1 -1 0 621.0000 354.9850)"/></g>
    </g>
    <g id="xtick_24">
     <g id="line2d_34">
      <g>
       <use href="#m1504cfccaf" x="450.72" y="243.2592" style="stroke: #000000; stroke-width: 0.8"/>
      </g>
     </g>
     <g id="text_35" transform="scale(0.72)" style="fill:#000000"><use href="#g80_28" transform="matrix(0 -1 -1 0 629.0000 384.8600)"/><use href="#g80_2d" transform="matrix(0 -1 -1 0 629.0000 380.4850)"/><use href="#g80_31" transform="matrix(0 -1 -1 0 629.0000 376.4850)"/><use href="#g80_2c" transform="matrix(0 -1 -1 0 629.0000 369.4850)"/><use href="#g80_2d" transform="matrix(0 -1 -1 0 629.0000 365.9850)"/><use href="#g80_32" transform="matrix(0 -1 -1 0 629.0000 361.9850)"/><use href="#g80_29" transform="matrix(0 -1 -1 0 629.0000 354.8600)"/></g>
    </g>
    <g id="xtick_25">
     <g id="line2d_35">
      <g>
       <use href="#m1504cfccaf" x="456.48" y="243.2592" style="stroke: #000000; stroke-width: 0.8"/>
      </g>
     </g>
     <g id="text_36" transform="scale(0.72)" style="fill:#000000"><use href="#g80_28" transform="matrix(0 -1 -1 0 637.0000 384.8600)"/><use href="#g80_2d" transform="matrix(0 -1 -1 0 637.0000 380.4850)"/><use href="#g80_31" transform="matrix(0 -1 -1 0 637.0000 376.4850)"/><use href="#g80_2c" transform="matrix(0 -1 -1 0 637.0000 369.4850)"/><use href="#g80_2d" transform="matrix(0 -1 -1 0 637.0000 365.9850)"/><use href="#g80_31" transform="matrix(0 -1 -1 0 637.0000 361.9850)"/><use href="#g80_29" transform="matrix(0 -1 -1 0 637.0000 354.9850)"/></g>
    </g>
    <g id="xtick_26">
     <g id="line2d_36">
      <g>
       <use href="#m1504cfccaf" x="462.24" y="243.2592" style="stroke: #000000; stroke-width: 0.8"/>
      </g>
     </g>
     <g id="text_37" transform="scale(0.72)" style="fill:#000000"><use href="#g80_28" transform="matrix(0 -1 -1 0 646.0000 380.8600)"/><use href="#g80_2d" transform="matrix(0 -1 -1 0 646.0000 376.4850)"/><use href="#g80_31" transform="matrix(0 -1 -1 0 646.0000 372.4850)"/><use href="#g80_2c" transform="matrix(0 -1 -1 0 646.0000 365.4850)"/><use href="#g80_30" transform="matrix(0 -1 -1 0 646.0000 361.9850)"/><use href="#g80_29" transform="matrix(0 -1 -1 0 646.0000 354.9850)"/></g>
    </g>
    <g id="xtick_27">
     <g id="line2d_37">
      <g>
       <use href="#m1504cfccaf" x="468" y="243.2592" style="stroke: #000000; stroke-width: 0.8"/>
      </g>
     </g>
     <g id="text_38" transform="scale(0.72)" style="fill:#000000"><use href="#g80_28" transform="matrix(0 -1 -1 0 654.0000 380.8600)"/><use href="#g80_2d" transform="matrix(0 -1 -1 0 654.0000 376.4850)"/><use href="#g80_31" transform="matrix(0 -1 -1 0 654.0000 372.4850)"/><use href="#g80_2c" transform="matrix(0 -1 -1 0 654.0000 365.4850)"/><use href="#g80_31" transform="matrix(0 -1 -1 0 654.0000 361.9850)"/><use href="#g80_29" transform="matrix(0 -1 -1 0 654.0000 354.9850)"/></g>
    </g>
    <g id="xtick_28">
     <g id="line2d_38">
      <g>
       <use href="#m1504cfccaf" x="474.48" y="243.2592" style="stroke: #000000; stroke-width: 0.8"/>
      </g>
     </g>
     <g id="text_39" transform="scale(0.72)" style="fill:#000000"><use href="#g80_28" transform="matrix(0 -1 -1 0 662.0000 380.8600)"/><use href="#g80_2d" transform="matrix(0 -1 -1 0 662.0000 376.4850)"/><use href="#g80_31" transform="matrix(0 -1 -1 0 662.0000 372.4850)"/><use href="#g80_2c" transform="matrix(0 -1 -1 0 662.0000 365.4850)"/><use href="#g80_32" transform="matrix(0 -1 -1 0 662.0000 361.9850)"/><use href="#g80_29" transform="matrix(0 -1 -1 0 662.0000 354.8600)"/></g>
    </g>
    <g id="xtick_29">
     <g id="line2d_39">
      <g>
       <use href="#m1504cfccaf" x="480.24" y="243.2592" style="stroke: #000000; stroke-width: 0.8"/>
      </g>
     </g>
     <g id="text_40" transform="scale(0.72)" style="fill:#000000"><use href="#g80_28" transform="matrix(0 -1 -1 0 670.0000 380.8600)"/><use href="#g80_2d" transform="matrix(0 -1 -1 0 670.0000 376.4850)"/><use href="#g80_31" transform="matrix(0 -1 -1 0 670.0000 372.4850)"/><use href="#g80_2c" transform="matrix(0 -1 -1 0 670.0000 365.4850)"/><use href="#g80_33" transform="matrix(0 -1 -1 0 670.0000 361.9850)"/><use href="#g80_29" transform="matrix(0 -1 -1 0 670.0000 354.9850)"/></g>
    </g>
    <g id="xtick_30">
     <g id="line2d_40">
      <g>
       <use href="#m1504cfccaf" x="486" y="243.2592" style="stroke: #000000; stroke-width: 0.8"/>
      </g>
     </g>
     <g id="text_41" transform="scale(0.72)" style="fill:#000000"><use href="#g80_28" transform="matrix(0 -1 -1 0 679.0000 380.8600)"/><use href="#g80_30" transform="matrix(0 -1 -1 0 679.0000 376.4850)"/><use href="#g80_2c" transform="matrix(0 -1 -1 0 679.0000 369.4850)"/><use href="#g80_2d" transform="matrix(0 -1 -1 0 679.0000 365.9850)"/><use href="#g80_33" transform="matrix(0 -1 -1 0 679.0000 361.9850)"/><use href="#g80_29" transform="matrix(0 -1 -1 0 679.0000 354.9850)"/></g>
    </g>
    <g id="xtick_31">
     <g id="line2d_41">
      <g>
       <use href="#m1504cfccaf" x="492.48" y="243.2592" style="stroke: #000000; stroke-width: 0.8"/>
      </g>
     </g>
     <g id="text_42" transform="scale(0.72)" style="fill:#000000"><use href="#g80_28" transform="matrix(0 -1 -1 0 687.0000 380.8600)"/><use href="#g80_30" transform="matrix(0 -1 -1 0 687.0000 376.4850)"/><use href="#g80_2c" transform="matrix(0 -1 -1 0 687.0000 369.4850)"/><use href="#g80_2d" transform="matrix(0 -1 -1 0 687.0000 365.9850)"/><use href="#g80_32" transform="matrix(0 -1 -1 0 687.0000 361.9850)"/><use href="#g80_29" transform="matrix(0 -1 -1 0 687.0000 354.8600)"/></g>
    </g>
    <g id="xtick_32">
     <g id="line2d_42">
      <g>
       <use href="#m1504cfccaf" x="498.24" y="243.2592" style="stroke: #000000; stroke-width: 0.8"/>
      </g>
     </g>
     <g id="text_43" transform="scale(0.72)" style="fill:#000000"><use href="#g80_28" transform="matrix(0 -1 -1 0 695.0000 380.8600)"/><use href="#g80_30" transform="matrix(0 -1 -1 0 695.0000 376.4850)"/><use href="#g80_2c" transform="matrix(0 -1 -1 0 695.0000 369.4850)"/><use href="#g80_2d" transform="matrix(0 -1 -1 0 695.0000 365.9850)"/><use href="#g80_31" transform="matrix(0 -1 -1 0 695.0000 361.9850)"/><use href="#g80_29" transform="matrix(0 -1 -1 0 695.0000 354.9850)"/></g>
    </g>
    <g id="xtick_33">
     <g id="line2d_43">
      <g>
       <use href="#m1504cfccaf" x="504" y="243.2592" style="stroke: #000000; stroke-width: 0.8"/>
      </g>
     </g>
     <g id="text_44" transform="scale(0.72)" style="fill:#000000"><use href="#g80_28" transform="matrix(0 -1 -1 0 704.0000 376.8600)"/><use href="#g80_30" transform="matrix(0 -1 -1 0 704.0000 372.4850)"/><use href="#g80_2c" transform="matrix(0 -1 -1 0 704.0000 365.4850)"/><use href="#g80_30" transform="matrix(0 -1 -1 0 704.0000 361.9850)"/><use href="#g80_29" transform="matrix(0 -1 -1 0 704.0000 354.9850)"/></g>
    </g>
    <g id="xtick_34">
     <g id="line2d_44">
      <g>
       <use href="#m1504cfccaf" x="509.76" y="243.2592" style="stroke: #000000; stroke-width: 0.8"/>
      </g>
     </g>
     <g id="text_45" transform="scale(0.72)" style="fill:#000000"><use href="#g80_28" transform="matrix(0 -1 -1 0 712.0000 376.8600)"/><use href="#g80_30" transform="matrix(0 -1 -1 0 712.0000 372.4850)"/><use href="#g80_2c" transform="matrix(0 -1 -1 0 712.0000 365.4850)"/><use href="#g80_31" transform="matrix(0 -1 -1 0 712.0000 361.9850)"/><use href="#g80_29" transform="matrix(0 -1 -1 0 712.0000 354.9850)"/></g>
    </g>
    <g id="xtick_35">
     <g id="line2d_45">
      <g>
       <use href="#m1504cfccaf" x="516.24" y="243.2592" style="stroke: #000000; stroke-width: 0.8"/>
      </g>
     </g>
     <g id="text_46" transform="scale(0.72)" style="fill:#000000"><use href="#g80_28" transform="matrix(0 -1 -1 0 720.0000 376.8600)"/><use href="#g80_30" transform="matrix(0 -1 -1 0 720.0000 372.4850)"/><use href="#g80_2c" transform="matrix(0 -1 -1 0 720.0000 365.4850)"/><use href="#g80_32" transform="matrix(0 -1 -1 0 720.0000 361.9850)"/><use href="#g80_29" transform="matrix(0 -1 -1 0 720.0000 354.8600)"/></g>
    </g>
    <g id="xtick_36">
     <g id="line2d_46">
      <g>
       <use href="#m1504cfccaf" x="522" y="243.2592" style="stroke: #000000; stroke-width: 0.8"/>
      </g>
     </g>
     <g id="text_47" transform="scale(0.72)" style="fill:#000000"><use href="#g80_28" transform="matrix(0 -1 -1 0 728.0000 376.8600)"/><use href="#g80_30" transform="matrix(0 -1 -1 0 728.0000 372.4850)"/><use href="#g80_2c" transform="matrix(0 -1 -1 0 728.0000 365.4850)"/><use href="#g80_33" transform="matrix(0 -1 -1 0 728.0000 361.9850)"/><use href="#g80_29" transform="matrix(0 -1 -1 0 728.0000 354.9850)"/></g>
    </g>
    <g id="xtick_37">
     <g id="line2d_47">
      <g>
       <use href="#m1504cfccaf" x="527.76" y="243.2592" style="stroke: #000000; stroke-width: 0.8"/>
      </g>
     </g>
     <g id="text_48" transform="scale(0.72)" style="fill:#000000"><use href="#g80_28" transform="matrix(0 -1 -1 0 737.0000 380.8600)"/><use href="#g80_31" transform="matrix(0 -1 -1 0 737.0000 376.4850)"/><use href="#g80_2c" transform="matrix(0 -1 -1 0 737.0000 369.4850)"/><use href="#g80_2d" transform="matrix(0 -1 -1 0 737.0000 365.9850)"/><use href="#g80_33" transform="matrix(0 -1 -1 0 737.0000 361.9850)"/><use href="#g80_29" transform="matrix(0 -1 -1 0 737.0000 354.9850)"/></g>
    </g>
    <g id="xtick_38">
     <g id="line2d_48">
      <g>
       <use href="#m1504cfccaf" x="533.52" y="243.2592" style="stroke: #000000; stroke-width: 0.8"/>
      </g>
     </g>
     <g id="text_49" transform="scale(0.72)" style="fill:#000000"><use href="#g80_28" transform="matrix(0 -1 -1 0 745.0000 380.8600)"/><use href="#g80_31" transform="matrix(0 -1 -1 0 745.0000 376.4850)"/><use href="#g80_2c" transform="matrix(0 -1 -1 0 745.0000 369.4850)"/><use href="#g80_2d" transform="matrix(0 -1 -1 0 745.0000 365.9850)"/><use href="#g80_32" transform="matrix(0 -1 -1 0 745.0000 361.9850)"/><use href="#g80_29" transform="matrix(0 -1 -1 0 745.0000 354.8600)"/></g>
    </g>
    <g id="xtick_39">
     <g id="line2d_49">
      <g>
       <use href="#m1504cfccaf" x="540" y="243.2592" style="stroke: #000000; stroke-width: 0.8"/>
      </g>
     </g>
     <g id="text_50" transform="scale(0.72)" style="fill:#000000"><use href="#g80_28" transform="matrix(0 -1 -1 0 753.0000 380.8600)"/><use href="#g80_31" transform="matrix(0 -1 -1 0 753.0000 376.4850)"/><use href="#g80_2c" transform="matrix(0 -1 -1 0 753.0000 369.4850)"/><use href="#g80_2d" transform="matrix(0 -1 -1 0 753.0000 365.9850)"/><use href="#g80_31" transform="matrix(0 -1 -1 0 753.0000 361.9850)"/><use href="#g80_29" transform="matrix(0 -1 -1 0 753.0000 354.9850)"/></g>
    </g>
    <g id="xtick_40">
     <g id="line2d_50">
      <g>
       <use href="#m1504cfccaf" x="545.76" y="243.2592" style="stroke: #000000; stroke-width: 0.8"/>
      </g>
     </g>
     <g id="text_51" transform="scale(0.72)" style="fill:#000000"><use href="#g80_28" transform="matrix(0 -1 -1 0 762.0000 376.8600)"/><use href="#g80_31" transform="matrix(0 -1 -1 0 762.0000 372.4850)"/><use href="#g80_2c" transform="matrix(0 -1 -1 0 762.0000 365.4850)"/><use href="#g80_30" transform="matrix(0 -1 -1 0 762.0000 361.9850)"/><use href="#g80_29" transform="matrix(0 -1 -1 0 762.0000 354.9850)"/></g>
    </g>
    <g id="xtick_41">
     <g id="line2d_51">
      <g>
       <use href="#m1504cfccaf" x="551.52" y="243.2592" style="stroke: #000000; stroke-width: 0.8"/>
      </g>
     </g>
     <g id="text_52" transform="scale(0.72)" style="fill:#000000"><use href="#g80_28" transform="matrix(0 -1 -1 0 770.0000 376.8600)"/><use href="#g80_31" transform="matrix(0 -1 -1 0 770.0000 372.4850)"/><use href="#g80_2c" transform="matrix(0 -1 -1 0 770.0000 365.4850)"/><use href="#g80_31" transform="matrix(0 -1 -1 0 770.0000 361.9850)"/><use href="#g80_29" transform="matrix(0 -1 -1 0 770.0000 354.9850)"/></g>
    </g>
    <g id="xtick_42">
     <g id="line2d_52">
      <g>
       <use href="#m1504cfccaf" x="558" y="243.2592" style="stroke: #000000; stroke-width: 0.8"/>
      </g>
     </g>
     <g id="text_53" transform="scale(0.72)" style="fill:#000000"><use href="#g80_28" transform="matrix(0 -1 -1 0 778.0000 376.8600)"/><use href="#g80_31" transform="matrix(0 -1 -1 0 778.0000 372.4850)"/><use href="#g80_2c" transform="matrix(0 -1 -1 0 778.0000 365.4850)"/><use href="#g80_32" transform="matrix(0 -1 -1 0 778.0000 361.9850)"/><use href="#g80_29" transform="matrix(0 -1 -1 0 778.0000 354.8600)"/></g>
    </g>
    <g id="xtick_43">
     <g id="line2d_53">
      <g>
       <use href="#m1504cfccaf" x="563.76" y="243.2592" style="stroke: #000000; stroke-width: 0.8"/>
      </g>
     </g>
     <g id="text_54" transform="scale(0.72)" style="fill:#000000"><use href="#g80_28" transform="matrix(0 -1 -1 0 786.0000 376.8600)"/><use href="#g80_31" transform="matrix(0 -1 -1 0 786.0000 372.4850)"/><use href="#g80_2c" transform="matrix(0 -1 -1 0 786.0000 365.4850)"/><use href="#g80_33" transform="matrix(0 -1 -1 0 786.0000 361.9850)"/><use href="#g80_29" transform="matrix(0 -1 -1 0 786.0000 354.9850)"/></g>
    </g>
    <g id="xtick_44">
     <g id="line2d_54">
      <g>
       <use href="#m1504cfccaf" x="569.52" y="243.2592" style="stroke: #000000; stroke-width: 0.8"/>
      </g>
     </g>
     <g id="text_55" transform="scale(0.72)" style="fill:#000000"><use href="#g80_28" transform="matrix(0 -1 -1 0 795.0000 380.8600)"/><use href="#g80_32" transform="matrix(0 -1 -1 0 795.0000 376.4850)"/><use href="#g80_2c" transform="matrix(0 -1 -1 0 795.0000 369.3600)"/><use href="#g80_2d" transform="matrix(0 -1 -1 0 795.0000 365.8600)"/><use href="#g80_33" transform="matrix(0 -1 -1 0 795.0000 361.8600)"/><use href="#g80_29" transform="matrix(0 -1 -1 0 795.0000 354.8600)"/></g>
    </g>
    <g id="xtick_45">
     <g id="line2d_55">
      <g>
       <use href="#m1504cfccaf" x="575.28" y="243.2592" style="stroke: #000000; stroke-width: 0.8"/>
      </g>
     </g>
     <g id="text_56" transform="scale(0.72)" style="fill:#000000"><use href="#g80_28" transform="matrix(0 -1 -1 0 803.0000 380.8600)"/><use href="#g80_32" transform="matrix(0 -1 -1 0 803.0000 376.4850)"/><use href="#g80_2c" transform="matrix(0 -1 -1 0 803.0000 369.3600)"/><use href="#g80_2d" transform="matrix(0 -1 -1 0 803.0000 365.8600)"/><use href="#g80_32" transform="matrix(0 -1 -1 0 803.0000 361.8600)"/><use href="#g80_29" transform="matrix(0 -1 -1 0 803.0000 354.7350)"/></g>
    </g>
    <g id="xtick_46">
     <g id="line2d_56">
      <g>
       <use href="#m1504cfccaf" x="581.76" y="243.2592" style="stroke: #000000; stroke-width: 0.8"/>
      </g>
     </g>
     <g id="text_57" transform="scale(0.72)" style="fill:#000000"><use href="#g80_28" transform="matrix(0 -1 -1 0 811.0000 380.8600)"/><use href="#g80_32" transform="matrix(0 -1 -1 0 811.0000 376.4850)"/><use href="#g80_2c" transform="matrix(0 -1 -1 0 811.0000 369.3600)"/><use href="#g80_2d" transform="matrix(0 -1 -1 0 811.0000 365.8600)"/><use href="#g80_31" transform="matrix(0 -1 -1 0 811.0000 361.8600)"/><use href="#g80_29" transform="matrix(0 -1 -1 0 811.0000 354.8600)"/></g>
    </g>
    <g id="xtick_47">
     <g id="line2d_57">
      <g>
       <use href="#m1504cfccaf" x="587.52" y="243.2592" style="stroke: #000000; stroke-width: 0.8"/>
      </g>
     </g>
     <g id="text_58" transform="scale(0.72)" style="fill:#000000"><use href="#g80_28" transform="matrix(0 -1 -1 0 819.0000 376.8600)"/><use href="#g80_32" transform="matrix(0 -1 -1 0 819.0000 372.4850)"/><use href="#g80_2c" transform="matrix(0 -1 -1 0 819.0000 365.3600)"/><use href="#g80_30" transform="matrix(0 -1 -1 0 819.0000 361.8600)"/><use href="#g80_29" transform="matrix(0 -1 -1 0 819.0000 354.8600)"/></g>
    </g>
    <g id="xtick_48">
     <g id="line2d_58">
      <g>
       <use href="#m1504cfccaf" x="593.28" y="243.2592" style="stroke: #000000; stroke-width: 0.8"/>
      </g>
     </g>
     <g id="text_59" transform="scale(0.72)" style="fill:#000000"><use href="#g80_28" transform="matrix(0 -1 -1 0 828.0000 376.8600)"/><use href="#g80_32" transform="matrix(0 -1 -1 0 828.0000 372.4850)"/><use href="#g80_2c" transform="matrix(0 -1 -1 0 828.0000 365.3600)"/><use href="#g80_31" transform="matrix(0 -1 -1 0 828.0000 361.8600)"/><use href="#g80_29" transform="matrix(0 -1 -1 0 828.0000 354.8600)"/></g>
    </g>
    <g id="xtick_49">
     <g id="line2d_59">
      <g>
       <use href="#m1504cfccaf" x="599.04" y="243.2592" style="stroke: #000000; stroke-width: 0.8"/>
      </g>
     </g>
     <g id="text_60" transform="scale(0.72)" style="fill:#000000"><use href="#g80_28" transform="matrix(0 -1 -1 0 836.0000 376.8600)"/><use href="#g80_32" transform="matrix(0 -1 -1 0 836.0000 372.4850)"/><use href="#g80_2c" transform="matrix(0 -1 -1 0 836.0000 365.3600)"/><use href="#g80_32" transform="matrix(0 -1 -1 0 836.0000 361.8600)"/><use href="#g80_29" transform="matrix(0 -1 -1 0 836.0000 354.7350)"/></g>
    </g>
    <g id="xtick_50">
     <g id="line2d_60">
      <g>
       <use href="#m1504cfccaf" x="605.52" y="243.2592" style="stroke: #000000; stroke-width: 0.8"/>
      </g>
     </g>
     <g id="text_61" transform="scale(0.72)" style="fill:#000000"><use href="#g80_28" transform="matrix(0 -1 -1 0 844.0000 376.8600)"/><use href="#g80_32" transform="matrix(0 -1 -1 0 844.0000 372.4850)"/><use href="#g80_2c" transform="matrix(0 -1 -1 0 844.0000 365.3600)"/><use href="#g80_33" transform="matrix(0 -1 -1 0 844.0000 361.8600)"/><use href="#g80_29" transform="matrix(0 -1 -1 0 844.0000 354.8600)"/></g>
    </g>
    <g id="xtick_51">
     <g id="line2d_61">
      <g>
       <use href="#m1504cfccaf" x="611.28" y="243.2592" style="stroke: #000000; stroke-width: 0.8"/>
      </g>
     </g>
     <g id="text_62" transform="scale(0.72)" style="fill:#000000"><use href="#g80_28" transform="matrix(0 -1 -1 0 853.0000 380.8600)"/><use href="#g80_33" transform="matrix(0 -1 -1 0 853.0000 376.4850)"/><use href="#g80_2c" transform="matrix(0 -1 -1 0 853.0000 369.4850)"/><use href="#g80_2d" transform="matrix(0 -1 -1 0 853.0000 365.9850)"/><use href="#g80_33" transform="matrix(0 -1 -1 0 853.0000 361.9850)"/><use href="#g80_29" transform="matrix(0 -1 -1 0 853.0000 354.9850)"/></g>
    </g>
    <g id="xtick_52">
     <g id="line2d_62">
      <g>
       <use href="#m1504cfccaf" x="617.04" y="243.2592" style="stroke: #000000; stroke-width: 0.8"/>
      </g>
     </g>
     <g id="text_63" transform="scale(0.72)" style="fill:#000000"><use href="#g80_28" transform="matrix(0 -1 -1 0 861.0000 380.8600)"/><use href="#g80_33" transform="matrix(0 -1 -1 0 861.0000 376.4850)"/><use href="#g80_2c" transform="matrix(0 -1 -1 0 861.0000 369.4850)"/><use href="#g80_2d" transform="matrix(0 -1 -1 0 861.0000 365.9850)"/><use href="#g80_32" transform="matrix(0 -1 -1 0 861.0000 361.9850)"/><use href="#g80_29" transform="matrix(0 -1 -1 0 861.0000 354.8600)"/></g>
    </g>
    <g id="xtick_53">
     <g id="line2d_63">
      <g>
       <use href="#m1504cfccaf" x="623.52" y="243.2592" style="stroke: #000000; stroke-width: 0.8"/>
      </g>
     </g>
     <g id="text_64" transform="scale(0.72)" style="fill:#000000"><use href="#g80_28" transform="matrix(0 -1 -1 0 869.0000 380.8600)"/><use href="#g80_33" transform="matrix(0 -1 -1 0 869.0000 376.4850)"/><use href="#g80_2c" transform="matrix(0 -1 -1 0 869.0000 369.4850)"/><use href="#g80_2d" transform="matrix(0 -1 -1 0 869.0000 365.9850)"/><use href="#g80_31" transform="matrix(0 -1 -1 0 869.0000 361.9850)"/><use href="#g80_29" transform="matrix(0 -1 -1 0 869.0000 354.9850)"/></g>
    </g>
    <g id="xtick_54">
     <g id="line2d_64">
      <g>
       <use href="#m1504cfccaf" x="629.28" y="243.2592" style="stroke: #000000; stroke-width: 0.8"/>
      </g>
     </g>
     <g id="text_65" transform="scale(0.72)" style="fill:#000000"><use href="#g80_28" transform="matrix(0 -1 -1 0 877.0000 376.8600)"/><use href="#g80_33" transform="matrix(0 -1 -1 0 877.0000 372.4850)"/><use href="#g80_2c" transform="matrix(0 -1 -1 0 877.0000 365.4850)"/><use href="#g80_30" transform="matrix(0 -1 -1 0 877.0000 361.9850)"/><use href="#g80_29" transform="matrix(0 -1 -1 0 877.0000 354.9850)"/></g>
    </g>
    <g id="xtick_55">
     <g id="line2d_65">
      <g>
       <use href="#m1504cfccaf" x="635.04" y="243.2592" style="stroke: #000000; stroke-width: 0.8"/>
      </g>
     </g>
     <g id="text_66" transform="scale(0.72)" style="fill:#000000"><use href="#g80_28" transform="matrix(0 -1 -1 0 886.0000 376.8600)"/><use href="#g80_33" transform="matrix(0 -1 -1 0 886.0000 372.4850)"/><use href="#g80_2c" transform="matrix(0 -1 -1 0 886.0000 365.4850)"/><use href="#g80_31" transform="matrix(0 -1 -1 0 886.0000 361.9850)"/><use href="#g80_29" transform="matrix(0 -1 -1 0 886.0000 354.9850)"/></g>
    </g>
    <g id="xtick_56">
     <g id="line2d_66">
      <g>
       <use href="#m1504cfccaf" x="640.8" y="243.2592" style="stroke: #000000; stroke-width: 0.8"/>
      </g>
     </g>
     <g id="text_67" transform="scale(0.72)" style="fill:#000000"><use href="#g80_28" transform="matrix(0 -1 -1 0 894.0000 376.8600)"/><use href="#g80_33" transform="matrix(0 -1 -1 0 894.0000 372.4850)"/><use href="#g80_2c" transform="matrix(0 -1 -1 0 894.0000 365.4850)"/><use href="#g80_32" transform="matrix(0 -1 -1 0 894.0000 361.9850)"/><use href="#g80_29" transform="matrix(0 -1 -1 0 894.0000 354.8600)"/></g>
    </g>
    <g id="xtick_57">
     <g id="line2d_67">
      <g>
       <use href="#m1504cfccaf" x="647.28" y="243.2592" style="stroke: #000000; stroke-width: 0.8"/>
      </g>
     </g>
     <g id="text_68" transform="scale(0.72)" style="fill:#000000"><use href="#g80_28" transform="matrix(0 -1 -1 0 902.0000 376.8600)"/><use href="#g80_33" transform="matrix(0 -1 -1 0 902.0000 372.4850)"/><use href="#g80_2c" transform="matrix(0 -1 -1 0 902.0000 365.4850)"/><use href="#g80_33" transform="matrix(0 -1 -1 0 902.0000 361.9850)"/><use href="#g80_29" transform="matrix(0 -1 -1 0 902.0000 354.9850)"/></g>
    </g>
    <g id="text_69" transform="scale(0.72)" style="fill:#000000"><use href="#g100_44" transform="matrix(1 0 0 -1 623.0000 399.8600)"/><use href="#g100_69" transform="matrix(1 0 0 -1 633.7500 399.8600)"/><use href="#g100_66" transform="matrix(1 0 0 -1 637.6250 399.8600)"/><use href="#g100_66" transform="matrix(1 0 0 -1 642.6250 399.8600)"/><use href="#g100_72" transform="matrix(1 0 0 -1 647.6250 399.8600)"/><use href="#g100_61" transform="matrix(1 0 0 -1 653.3750 399.8600)"/><use href="#g100_63" transform="matrix(1 0 0 -1 662.0000 399.8600)"/><use href="#g100_74" transform="matrix(1 0 0 -1 669.6250 399.8600)"/><use href="#g100_69" transform="matrix(1 0 0 -1 675.1250 399.8600)"/><use href="#g100_6f" transform="matrix(1 0 0 -1 679.0000 399.8600)"/><use href="#g100_6e" transform="matrix(1 0 0 -1 687.5000 399.8600)"/><use href="#g100_4f" transform="matrix(1 0 0 -1 700.6250 399.8600)"/><use href="#g100_72" transform="matrix(1 0 0 -1 711.5000 399.8600)"/><use href="#g100_64" transform="matrix(1 0 0 -1 717.0000 399.8600)"/><use href="#g100_65" transform="matrix(1 0 0 -1 725.8750 399.8600)"/><use href="#g100_72" transform="matrix(1 0 0 -1 734.3750 399.8600)"/><use href="#g100_28" transform="matrix(1 0 0 -1 744.5000 399.8600)"/><use href="#g100_78" transform="matrix(1 0 0 -1 750.0000 399.8600)"/><use href="#g100_2c" transform="matrix(1 0 0 -1 758.2500 399.8600)"/><use href="#g100_79" transform="matrix(1 0 0 -1 762.6250 399.8600)"/><use href="#g100_29" transform="matrix(1 0 0 -1 770.8750 399.8600)"/></g>
   </g>
   <g id="matplotlib.axis_6">
    <g id="ytick_11">
     <g id="line2d_68">
      <defs>
       <path id="m5d545ce8f8" d="M 0.36 0.2592 L -3.24 0.2592" style="stroke: #000000; stroke-width: 0.8"/>
      </defs>
      <g>
       <use href="#m5d545ce8f8" x="344.16" y="243.2592" style="stroke: #000000; stroke-width: 0.8"/>
      </g>
     </g>
     <g id="text_70" transform="scale(0.72)" style="fill:#000000"><use href="#g100_30" transform="matrix(1 0 0 -1 460.0000 343.8600)"/></g>
    </g>
    <g id="ytick_12">
     <g id="line2d_69">
      <g>
       <use href="#m5d545ce8f8" x="344.16" y="205.8192" style="stroke: #000000; stroke-width: 0.8"/>
      </g>
     </g>
     <g id="text_71" transform="scale(0.72)" style="fill:#000000"><use href="#g100_32" transform="matrix(1 0 0 -1 451.0000 291.8600)"/><use href="#g100_30" transform="matrix(1 0 0 -1 459.7500 291.8600)"/></g>
    </g>
    <g id="ytick_13">
     <g id="line2d_70">
      <g>
       <use href="#m5d545ce8f8" x="344.16" y="167.6592" style="stroke: #000000; stroke-width: 0.8"/>
      </g>
     </g>
     <g id="text_72" transform="scale(0.72)" style="fill:#000000"><use href="#g100_34" transform="matrix(1 0 0 -1 451.0000 239.8600)"/><use href="#g100_30" transform="matrix(1 0 0 -1 458.7500 239.8600)"/></g>
    </g>
    <g id="ytick_14">
     <g id="line2d_71">
      <g>
       <use href="#m5d545ce8f8" x="344.16" y="130.2192" style="stroke: #000000; stroke-width: 0.8"/>
      </g>
     </g>
     <g id="text_73" transform="scale(0.72)" style="fill:#000000"><use href="#g100_36" transform="matrix(1 0 0 -1 451.0000 186.8600)"/><use href="#g100_30" transform="matrix(1 0 0 -1 459.8750 186.8600)"/></g>
    </g>
    <g id="ytick_15">
     <g id="line2d_72">
      <g>
       <use href="#m5d545ce8f8" x="344.16" y="92.0592" style="stroke: #000000; stroke-width: 0.8"/>
      </g>
     </g>
     <g id="text_74" transform="scale(0.72)" style="fill:#000000"><use href="#g100_38" transform="matrix(1 0 0 -1 451.0000 134.8600)"/><use href="#g100_30" transform="matrix(1 0 0 -1 459.8750 134.8600)"/></g>
    </g>
    <g id="ytick_16">
     <g id="line2d_73">
      <g>
       <use href="#m5d545ce8f8" x="344.16" y="54.6192" style="stroke: #000000; stroke-width: 0.8"/>
      </g>
     </g>
     <g id="text_75" transform="scale(0.72)" style="fill:#000000"><use href="#g100_31" transform="matrix(1 0 0 -1 442.0000 81.8600)"/><use href="#g100_30" transform="matrix(1 0 0 -1 449.8750 81.8600)"/><use href="#g100_30" transform="matrix(1 0 0 -1 458.6250 81.8600)"/></g>
    </g>
   </g>
   <g id="patch_105">
    <path d="M 344.52 243.6192 L 344.52 45.6192" style="fill: none; stroke: #000000; stroke-width: 0.8; stroke-linejoin: miter; stroke-linecap: square"/>
   </g>
   <g id="patch_106">
    <path d="M 664.2 243.6192 L 664.2 45.6192" style="fill: none; stroke: #000000; stroke-width: 0.8; stroke-linejoin: miter; stroke-linecap: square"/>
   </g>
   <g id="patch_107">
    <path d="M 344.52 243.6192 L 664.2 243.6192" style="fill: none; stroke: #000000; stroke-width: 0.8; stroke-linejoin: miter; stroke-linecap: square"/>
   </g>
   <g id="patch_108">
    <path d="M 344.52 45.6192 L 664.2 45.6192" style="fill: none; stroke: #000000; stroke-width: 0.8; stroke-linejoin: miter; stroke-linecap: square"/>
   </g>
   <g id="text_76" transform="scale(0.72)" style="fill:#000000"><use href="#g120_44" transform="matrix(1 0 0 -1 555.0000 54.8600)"/><use href="#g120_69" transform="matrix(1 0 0 -1 567.8750 54.8600)"/><use href="#g120_66" transform="matrix(1 0 0 -1 572.5000 54.8600)"/><use href="#g120_66" transform="matrix(1 0 0 -1 578.3750 54.8600)"/><use href="#g120_72" transform="matrix(1 0 0 -1 584.2500 54.8600)"/><use href="#g120_61" transform="matrix(1 0 0 -1 591.1250 54.8600)"/><use href="#g120_63" transform="matrix(1 0 0 -1 601.2500 54.8600)"/><use href="#g120_74" transform="matrix(1 0 0 -1 610.3750 54.8600)"/><use href="#g120_69" transform="matrix(1 0 0 -1 616.8750 54.8600)"/><use href="#g120_6f" transform="matrix(1 0 0 -1 621.5000 54.8600)"/><use href="#g120_6e" transform="matrix(1 0 0 -1 631.6250 54.8600)"/><use href="#g120_4d" transform="matrix(1 0 0 -1 647.3750 54.8600)"/><use href="#g120_6f" transform="matrix(1 0 0 -1 661.7500 54.8600)"/><use href="#g120_6e" transform="matrix(1 0 0 -1 671.8750 54.8600)"/><use href="#g120_69" transform="matrix(1 0 0 -1 682.3750 54.8600)"/><use href="#g120_74" transform="matrix(1 0 0 -1 687.0000 54.8600)"/><use href="#g120_6f" transform="matrix(1 0 0 -1 693.5000 54.8600)"/><use href="#g120_72" transform="matrix(1 0 0 -1 703.6250 54.8600)"/><use href="#g120_50" transform="matrix(1 0 0 -1 715.7500 54.8600)"/><use href="#g120_6f" transform="matrix(1 0 0 -1 725.2500 54.8600)"/><use href="#g120_77" transform="matrix(1 0 0 -1 735.3750 54.8600)"/><use href="#g120_65" transform="matrix(1 0 0 -1 749.0000 54.8600)"/><use href="#g120_72" transform="matrix(1 0 0 -1 759.2500 54.8600)"/><use href="#g120_62" transform="matrix(1 0 0 -1 771.3750 54.8600)"/><use href="#g120_79" transform="matrix(1 0 0 -1 781.8750 54.8600)"/><use href="#g120_4f" transform="matrix(1 0 0 -1 797.0000 54.8600)"/><use href="#g120_72" transform="matrix(1 0 0 -1 810.0000 54.8600)"/><use href="#g120_64" transform="matrix(1 0 0 -1 816.6250 54.8600)"/><use href="#g120_65" transform="matrix(1 0 0 -1 827.1250 54.8600)"/><use href="#g120_72" transform="matrix(1 0 0 -1 837.3750 54.8600)"/></g>
   <g id="legend_1">
    <g id="patch_109">
     <path d="M 525.24 83.7792 L 657 83.7792 Q 659.16 83.7792 659.16 81.6192 L 659.16 52.8192 Q 659.16 50.6592 657 50.6592 L 525.24 50.6592 Q 523.08 50.6592 523.08 52.8192 L 523.08 81.6192 Q 523.08 83.7792 525.24 83.7792 z" style="fill: #ffffff; opacity: 0.8; stroke: #cccccc; stroke-linejoin: miter"/>
    </g>
    <g id="patch_110">
     <path d="M 527.04 61.8192 L 547.2 61.8192 L 547.2 55.3392 L 527.04 55.3392 z" style="fill: #1f77b4"/>
    </g>
    <g id="text_77" transform="scale(0.72)" style="fill:#000000"><use href="#g100_4d" transform="matrix(1 0 0 -1 771.0000 87.8600)"/><use href="#g100_65" transform="matrix(1 0 0 -1 783.0000 87.8600)"/><use href="#g100_61" transform="matrix(1 0 0 -1 791.5000 87.8600)"/><use href="#g100_73" transform="matrix(1 0 0 -1 800.1250 87.8600)"/><use href="#g100_75" transform="matrix(1 0 0 -1 807.2500 87.8600)"/><use href="#g100_72" transform="matrix(1 0 0 -1 816.0000 87.8600)"/><use href="#g100_65" transform="matrix(1 0 0 -1 821.5000 87.8600)"/><use href="#g100_64" transform="matrix(1 0 0 -1 830.0000 87.8600)"/><use href="#g100_28" transform="matrix(1 0 0 -1 843.2500 87.8600)"/><use href="#g100_6e" transform="matrix(1 0 0 -1 848.7500 87.8600)"/><use href="#g100_6f" transform="matrix(1 0 0 -1 857.5000 87.8600)"/><use href="#g100_6e" transform="matrix(1 0 0 -1 866.0000 87.8600)"/><use href="#g100_7a" transform="matrix(1 0 0 -1 874.7500 87.8600)"/><use href="#g100_65" transform="matrix(1 0 0 -1 882.1250 87.8600)"/><use href="#g100_72" transform="matrix(1 0 0 -1 890.6250 87.8600)"/><use href="#g100_6f" transform="matrix(1 0 0 -1 896.1250 87.8600)"/><use href="#g100_29" transform="matrix(1 0 0 -1 904.6250 87.8600)"/></g>
    <g id="patch_111">
     <path d="M 527.04 76.9392 L 547.2 76.9392 L 547.2 70.4592 L 527.04 70.4592 z" style="fill: #00ffff; opacity: 0.3"/>
    </g>
    <g id="text_78" transform="scale(0.72)" style="fill:#000000"><use href="#g100_44" transform="matrix(1 0 0 -1 771.0000 107.8600)"/><use href="#g100_65" transform="matrix(1 0 0 -1 780.7500 107.8600)"/><use href="#g100_73" transform="matrix(1 0 0 -1 789.2500 107.8600)"/><use href="#g100_69" transform="matrix(1 0 0 -1 796.3750 107.8600)"/><use href="#g100_72" transform="matrix(1 0 0 -1 800.2500 107.8600)"/><use href="#g100_65" transform="matrix(1 0 0 -1 805.7500 107.8600)"/><use href="#g100_64" transform="matrix(1 0 0 -1 814.2500 107.8600)"/></g>
   </g>
  </g>
 </g>
 <defs>
  <clipPath id="pb566f60d54">
   <path d="M 231.5088 144.2952 
C 231.5088 131.275729 228.944248 118.382856 223.961912 106.354434 
C 218.979577 94.326011 211.676351 83.395961 202.470195 74.189805 
C 193.264039 64.983649 182.333989 57.680423 170.305566 52.698088 
C 158.277144 47.715752 145.384271 45.1512 132.3648 45.1512 
C 119.345329 45.1512 106.452456 47.715752 94.424034 52.698088 
C 82.395611 57.680423 71.465561 64.983649 62.259405 74.189805 
C 53.053249 83.395961 45.750023 94.326011 40.767688 106.354434 
C 35.785352 118.382856 33.2208 131.275729 33.2208 144.2952 
C 33.2208 157.314671 35.785352 170.207544 40.767688 182.235966 
C 45.750023 194.264389 53.053249 205.194439 62.259405 214.400595 
C 71.465561 223.606751 82.395611 230.909977 94.424034 235.892312 
C 106.452456 240.874648 119.345329 243.4392 132.3648 243.4392 
C 145.384271 243.4392 158.277144 240.874648 170.305566 235.892312 
C 182.333989 230.909977 193.264039 223.606751 202.470195 214.400595 
C 211.676351 205.194439 218.979577 194.264389 223.961912 182.235966 
C 228.944248 170.207544 231.5088 157.314671 231.5088 144.2952 
M 132.3648 144.2952 
C 132.3648 144.2952 132.3648 144.2952 132.3648 144.2952 
C 132.3648 144.2952 132.3648 144.2952 132.3648 144.2952 
C 132.3648 144.2952 132.3648 144.2952 132.3648 144.2952 
C 132.3648 144.2952 132.3648 144.2952 132.3648 144.2952 
C 132.3648 144.2952 132.3648 144.2952 132.3648 144.2952 
C 132.3648 144.2952 132.3648 144.2952 132.3648 144.2952 
C 132.3648 144.2952 132.3648 144.2952 132.3648 144.2952 
C 132.3648 144.2952 132.3648 144.2952 132.3648 144.2952 
C 132.3648 144.2952 132.3648 144.2952 132.3648 144.2952 
C 132.3648 144.2952 132.3648 144.2952 132.3648 144.2952 
C 132.3648 144.2952 132.3648 144.2952 132.3648 144.2952 
C 132.3648 144.2952 132.3648 144.2952 132.3648 144.2952 
C 132.3648 144.2952 132.3648 144.2952 132.3648 144.2952 
C 132.3648 144.2952 132.3648 144.2952 132.3648 144.2952 
C 132.3648 144.2952 132.3648 144.2952 132.3648 144.2952 
C 132.3648 144.2952 132.3648 144.2952 132.3648 144.2952 
z
"/>
  </clipPath>
  <clipPath id="p0f0ff74f67">
   <rect x="344.1312" y="45.2232" width="319.8528" height="198.072"/>
  </clipPath>
 </defs>
</svg>

</body></html>
